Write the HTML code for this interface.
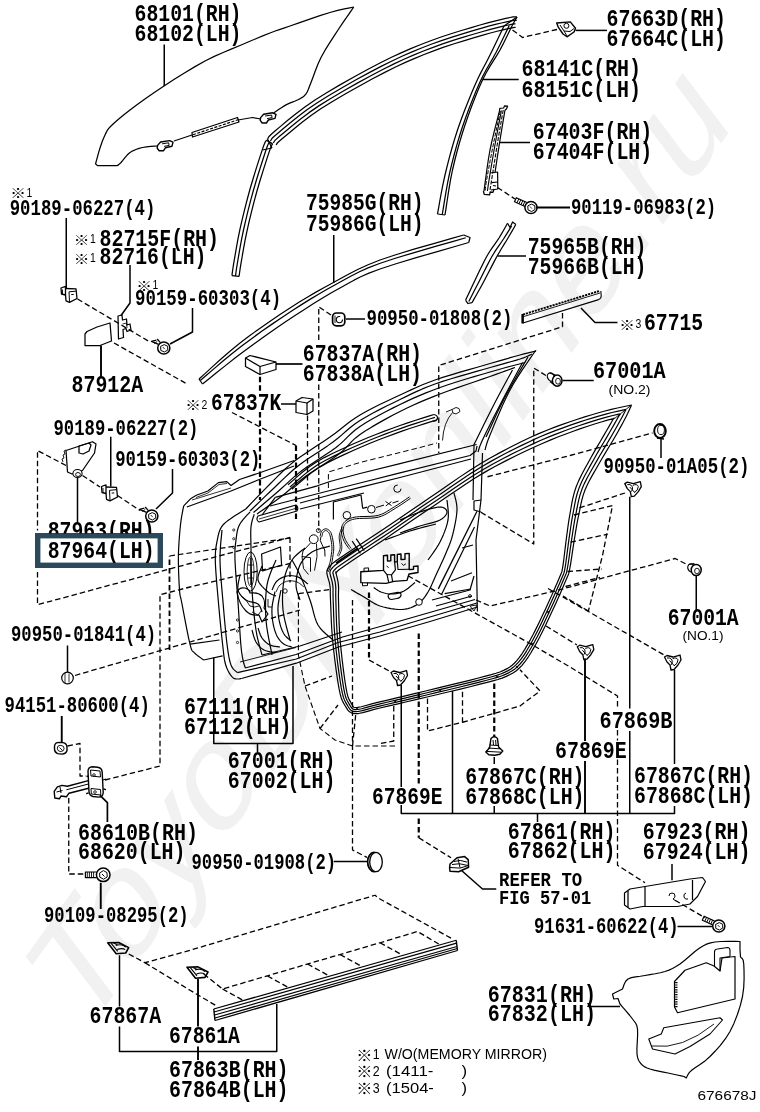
<!DOCTYPE html>
<html><head><meta charset="utf-8"><title>Front door panel and glass parts diagram</title>
<style>html,body{margin:0;padding:0;background:#fff}svg{display:block}text{white-space:pre}</style>
</head><body>
<svg width="760" height="1112" viewBox="0 0 760 1112">
<defs><filter id="gs" filterUnits="userSpaceOnUse" x="0" y="0" width="760" height="1112" color-interpolation-filters="sRGB"><feColorMatrix type="saturate" values="0"/></filter></defs>
<rect width="760" height="1112" fill="#fff"/>
<text transform="translate(83 1038) scale(1 1.366) rotate(-45.75)" font-family='"Liberation Sans", sans-serif' font-size="120" fill="#f1f1f1" textLength="933" lengthAdjust="spacingAndGlyphs">ToyoDIYonline.ru</text>
<path d="M95.5 164 L96.3 161.05 L97.44 156.81 L98.73 152.16 L100 148 L101.19 144.45 L102.41 141.06 L103.67 137.9 L105 135 L106.12 132.63 L107.12 130.69 L108.56 128.65 L111 126 L114.48 122.68 L118.75 118.94 L123.89 114.73 L130 110 L137.28 104.59 L145.62 98.56 L154.66 92.26 L164 86 L173.9 79.6 L184.44 72.97 L195.01 66.61 L205 61 L214.29 56.39 L223.19 52.47 L231.74 48.94 L240 45.5 L248.09 42.04 L255.94 38.72 L263.32 35.67 L270 33 L275.23 31.02 L279.38 29.56 L283.83 28.08 L290 26 L298.97 22.89 L309.77 19.16 L320.67 15.46 L330 12.5 L337.64 10.43 L344.38 8.91 L349.86 7.8 L353.75 7" fill="none" stroke="#000" stroke-width="1.25" stroke-linejoin="round"/>
<path d="M353.75 7 L350.95 11.03 L346.94 16.78 L342.39 23.39 L338 30 L333.67 36.62 L329.14 43.62 L324.79 50.7 L321 57.5 L317.9 64.24 L315.26 70.99 L313 77.24 L311 82.5 L309.43 86.5 L308.27 89.56 L307.18 92.02 L305.8 94.2 L304.11 96.04 L302.27 97.41 L300.22 98.58 L297.9 99.8 L295.22 101.04 L292.24 102.19 L289.11 103.43 L286 104.9 L282.62 106.9 L279.01 109.27 L275.76 111.47 L273.5 113" fill="none" stroke="#000" stroke-width="1.25" stroke-linejoin="round"/>
<path d="M261 119 L252.5 117.5 L238 120" fill="none" stroke="#000" stroke-width="1.25" stroke-linejoin="round"/>
<path d="M192 132.5 L237.5 117.5 L239 122 L192.5 137Z" fill="none" stroke="#000" stroke-width="1.25" stroke-linejoin="round"/>
<path d="M193 134.7 L238 119.8" fill="none" stroke="#000" stroke-width="1.2" stroke-dasharray="3 1.5" stroke-linejoin="round"/>
<path d="M192 135 L174 141" fill="none" stroke="#000" stroke-width="1.25" stroke-linejoin="round"/>
<path d="M157.5 146 L154.75 146.19 L150.78 146.44 L146.43 146.84 L142.5 147.5 L139.12 148.39 L135.88 149.47 L132.82 150.82 L130 152.5 L127.38 154.81 L124.94 157.62 L122.78 160.38 L121 162.5 L119.66 163.81 L118.69 164.62 L118 165.12 L117.5 165.5 L97.5 165.5 L95.5 164" fill="none" stroke="#000" stroke-width="1.25" stroke-linejoin="round"/>
<path d="M157.6 145.4 l3 -3.4 l9 -1.4 l3.4 1.6 l-1 4 l-6.6 1.6 l-2 3 l-4.2 0 l-2 -2.6 z" fill="none" stroke="#000" stroke-width="1.4" stroke-linejoin="round"/>
<path d="M162.1 143.8 l6.5 -1 l0.5 2.6 l-5 1" fill="none" stroke="#000" stroke-width="1" stroke-linejoin="round"/>
<path d="M260.6 117.6 l3 -3.4 l9 -1.4 l3.4 1.6 l-1 4 l-6.6 1.6 l-2 3 l-4.2 0 l-2 -2.6 z" fill="none" stroke="#000" stroke-width="1.4" stroke-linejoin="round"/>
<path d="M265.1 116 l6.5 -1 l0.5 2.6 l-5 1" fill="none" stroke="#000" stroke-width="1" stroke-linejoin="round"/>
<path d="M231.93 275.52 L232.2 273.55 L232.56 270.78 L233.12 266.97 L233.95 261.9 L235.08 255.28 L236.46 247.27 L238.09 238.41 L239.98 229.24 L242.16 219.7 L244.6 209.6 L247.25 199.26 L250.04 189.02 L253.21 178.21 L256.72 166.92 L260.03 156.64 L262.59 148.84 L264.24 144.26 L265.34 141.84 L266.06 140.73 L266.42 140.13" fill="none" stroke="#000" stroke-width="1.25" stroke-linejoin="round"/>
<path d="M235.5 276 L235.77 274.02 L236.12 271.28 L236.67 267.53 L237.5 262.5 L238.62 255.89 L240 247.91 L241.62 239.1 L243.5 230 L245.66 220.53 L248.09 210.47 L250.73 200.18 L253.5 190 L256.66 179.25 L260.16 168 L263.45 157.75 L266 150 L267.59 145.56 L268.53 143.5 L269.08 142.69 L269.5 142" fill="none" stroke="#000" stroke-width="1.25" stroke-linejoin="round"/>
<path d="M239.07 276.48 L239.33 274.49 L239.69 271.78 L240.23 268.08 L241.05 263.1 L242.17 256.49 L243.54 248.54 L245.16 239.79 L247.02 230.76 L249.16 221.35 L251.59 211.34 L254.21 201.1 L256.96 190.98 L260.11 180.29 L263.59 169.08 L266.87 158.86 L269.41 151.16 L270.94 146.87 L271.73 145.16 L272.11 144.64 L272.58 143.87" fill="none" stroke="#000" stroke-width="1.25" stroke-linejoin="round"/>
<path d="M231.93 275.52 L239.07 276.48" fill="none" stroke="#000" stroke-width="1.25" stroke-linejoin="round"/>
<path d="M266.42 140.13 L272.58 143.87" fill="none" stroke="#000" stroke-width="1.25" stroke-linejoin="round"/>
<path d="M267.5 139 L268 138.28 L268.4 137.48 L269.3 136.24 L271.3 134.2 L275 131 L280.52 126.37 L287.46 120.54 L295.64 113.94 L304.88 106.95 L315 100 L326.64 92.74 L339.92 84.91 L353.88 77.01 L367.56 69.54 L380 63 L390.96 57.54 L401.08 52.83 L410.72 48.65 L420.24 44.78 L430 41 L440.32 37.28 L450.96 33.76 L461.44 30.5 L471.28 27.56 L480 25 L487.65 22.84 L494.54 21.05 L500.62 19.59 L505.79 18.42 L510 17.5 L512.98 16.94 L514.79 16.77 L515.81 16.83 L516.42 16.96 L517 17" fill="none" stroke="#000" stroke-width="1.25" stroke-linejoin="round"/>
<path d="M270.37 141 L271.01 140.06 L271.35 139.36 L271.92 138.56 L273.67 136.78 L277.27 133.67 L282.77 129.05 L289.68 123.25 L297.79 116.7 L306.92 109.79 L316.91 102.93 L328.45 95.74 L341.67 87.94 L355.58 80.07 L369.21 72.62 L381.6 66.11 L392.48 60.7 L402.52 56.02 L412.08 51.87 L421.53 48.03 L431.22 44.28 L441.46 40.59 L452.03 37.09 L462.46 33.85 L472.27 30.92 L480.97 28.36 L488.56 26.22 L495.4 24.45 L501.41 23 L506.55 21.83 L510.7 20.93 L513.51 20.4 L514.94 20.27 L515.41 20.31 L515.92 20.42 L516.74 20.49" fill="none" stroke="#000" stroke-width="1.25" stroke-linejoin="round"/>
<path d="M273.25 142.99 L274.02 141.85 L274.3 141.24 L274.54 140.88 L276.04 139.35 L279.53 136.34 L285.02 131.73 L291.91 125.95 L299.95 119.45 L308.97 112.63 L318.83 105.86 L330.27 98.73 L343.42 90.97 L357.28 83.13 L370.87 75.7 L383.19 69.23 L394 63.85 L403.95 59.21 L413.43 55.1 L422.82 51.28 L432.45 47.56 L442.61 43.9 L453.1 40.42 L463.48 37.2 L473.27 34.27 L481.94 31.73 L489.48 29.6 L496.25 27.84 L502.21 26.4 L507.31 25.25 L511.4 24.36 L514.04 23.86 L515.08 23.77 L515.02 23.78" fill="none" stroke="#000" stroke-width="1.25" stroke-linejoin="round"/>
<path d="M276.12 144.99 L277.03 143.63 L277.25 143.12 L277.17 143.19 L278.41 141.93 L281.8 139 L287.27 134.41 L294.13 128.65 L302.1 122.21 L311.01 115.47 L320.74 108.79 L332.08 101.73 L345.17 94 L358.98 86.18 L372.52 78.79 L384.79 72.34 L395.52 67 L405.39 62.41 L414.79 58.33 L424.11 54.54 L433.67 50.84 L443.75 47.2 L454.17 43.76 L464.5 40.54 L474.26 37.63 L482.91 35.09 L490.4 32.98 L497.1 31.24 L503.01 29.81 L508.07 28.67 L512.11 27.79 L514.56 27.32 L515.22 27.26 L514.63 27.26" fill="none" stroke="#000" stroke-width="1.25" stroke-linejoin="round"/>
<path d="M267.5 139 L272 148" fill="none" stroke="#000" stroke-width="1.25" stroke-linejoin="round"/>
<path d="M262.5 150 L272 148" fill="none" stroke="#000" stroke-width="1.25" stroke-linejoin="round"/>
<path d="M517 17 L516.52 17.82 L515.91 18.81 L515.09 20.19 L513.98 22.18 L512.5 25 L510.59 28.83 L508.32 33.54 L505.74 38.82 L502.95 44.41 L500 50 L496.82 55.44 L493.36 60.92 L489.74 66.68 L486.08 72.96 L482.5 80 L478.92 88.04 L475.26 96.92 L471.64 106.28 L468.18 115.76 L465 125 L462.1 134 L459.4 143 L456.9 152 L454.6 161 L452.5 170 L450.56 179.72 L448.78 190.16 L447.22 200.24 L445.94 208.88 L445 215" fill="none" stroke="#000" stroke-width="1.25" stroke-linejoin="round"/>
<path d="M504 26 L502.11 29.93 L499.46 35.46 L496.34 41.94 L493.09 48.67 L490 55 L487.1 60.7 L484.19 66.21 L481.23 71.87 L478.18 78.02 L475 85 L471.58 93.04 L467.94 101.92 L464.26 111.28 L460.72 120.76 L457.5 130 L454.6 139.1 L451.9 148.29 L449.4 157.43 L447.1 166.38 L445 175 L443.06 183.81 L441.28 192.9 L439.72 201.5 L438.44 208.79 L437.5 214" fill="none" stroke="#000" stroke-width="1.25" stroke-linejoin="round"/>
<path d="M509.25 25.5 L507.5 29.12 L505.05 34.21 L502.15 40.19 L499.05 46.48 L496 52.5 L492.96 58.07 L489.78 63.56 L486.48 69.28 L483.13 75.49 L479.75 82.5 L476.25 90.54 L472.6 99.42 L468.95 108.78 L465.45 118.26 L462.25 127.5 L459.35 136.55 L456.65 145.64 L454.15 154.72 L451.85 163.69 L449.75 172.5 L447.81 181.76 L446.03 191.53 L444.47 200.87 L443.19 208.84 L442.25 214.5" fill="none" stroke="#000" stroke-width="1.25" stroke-linejoin="round"/>
<path d="M437.5 214 L445 215" fill="none" stroke="#000" stroke-width="1.25" stroke-linejoin="round"/>
<path d="M504 26 L517 17" fill="none" stroke="#000" stroke-width="1.25" stroke-linejoin="round"/>
<path d="M556.7 23 L570.3 21.9 L575.5 28.2 L574 32 L567 36.8 L563 34 L558.4 27.4Z" fill="none" stroke="#000" stroke-width="1.4" stroke-linejoin="round"/>
<circle cx="566.4" cy="25.8" r="2.5" fill="none" stroke="#000" stroke-width="1"/>
<path d="M560 25 l4 6 l6 0.5 l4 -3 M564 31 l3 5" fill="none" stroke="#000" stroke-width="1" stroke-linejoin="round"/>
<path d="M505 110 L504.32 114.04 L503.36 119.72 L502.24 126.38 L501.08 133.36 L500 140 L498.92 146.86 L497.76 154.38 L496.64 161.72 L495.68 168.04 L495 172.5" fill="none" stroke="#000" stroke-width="1.2" stroke-linejoin="round"/>
<path d="M503.2 110 L502.49 114.04 L501.49 119.72 L500.33 126.38 L499.12 133.36 L498 140 L496.92 146.58 L495.8 153.54 L494.71 160.46 L493.69 166.92 L492.8 172.5 L492.04 177.24 L491.37 181.42 L490.8 184.98 L490.34 187.86 L490 190" fill="none" stroke="#000" stroke-width="1.1" stroke-dasharray="4 1.5" stroke-linejoin="round"/>
<path d="M501.4 110.5 L500.59 114.78 L499.45 120.81 L498.11 127.85 L496.75 135.16 L495.5 142 L494.33 148.61 L493.13 155.48 L491.97 162.26 L490.91 168.55 L490 174 L489.25 178.63 L488.63 182.7 L488.11 186.14 L487.71 188.93 L487.4 191" fill="none" stroke="#000" stroke-width="1.1" stroke-linejoin="round"/>
<path d="M500.3 111 L499.29 115.78 L497.86 122.53 L496.21 130.39 L494.52 138.5 L493 146 L491.58 153.23 L490.14 160.78 L488.76 168.1 L487.55 174.69 L486.6 180 L485.98 183.85 L485.61 186.58 L485.42 188.5 L485.31 189.87 L485.2 191" fill="none" stroke="#000" stroke-width="1" stroke-dasharray="4 1.5" stroke-linejoin="round"/>
<path d="M499.5 111 L498.15 116.27 L496.22 123.7 L494 132.38 L491.83 141.45 L490 150 L488.48 158.73 L487.06 168.22 L485.8 177.46 L484.76 185.39 L484 191" fill="none" stroke="#000" stroke-width="1.2" stroke-linejoin="round"/>
<path d="M499.5 111 L499.8 108.3 L503.6 108 L504.6 105.8 L507.6 106.2 L506.4 109 L505 110" fill="none" stroke="#000" stroke-width="1.2" stroke-linejoin="round"/>
<path d="M483.4 191 L484.2 194.4 L489.6 194.8 L490.2 192 L493 192.4 L494 189" fill="none" stroke="#000" stroke-width="1.3" stroke-linejoin="round"/>
<path d="M490 173 L497.6 172 L497.8 189 L491 190" fill="none" stroke="#000" stroke-width="1.2" stroke-linejoin="round"/>
<path d="M491.5 182.6 L497.6 182" fill="none" stroke="#000" stroke-width="1.2" stroke-linejoin="round"/>
<path d="M493 185.5 l3 0.5" fill="none" stroke="#000" stroke-width="1.2" stroke-linejoin="round"/>
<path d="M507.5 223.3 L506.39 225.26 L504.86 228 L503.03 231.23 L501.03 234.66 L499 238 L496.9 241.15 L494.65 244.31 L492.29 247.62 L489.86 251.24 L487.4 255.3 L484.82 260.07 L482.1 265.45 L479.36 271.06 L476.75 276.5 L474.4 281.4 L472.23 285.94 L470.16 290.39 L468.28 294.45 L466.73 297.84 L465.6 300.3" fill="none" stroke="#000" stroke-width="1.25" stroke-linejoin="round"/>
<path d="M515.8 224.5 L514.79 226.26 L513.4 228.69 L511.73 231.59 L509.9 234.76 L508 238 L506.04 241.25 L503.93 244.66 L501.7 248.28 L499.35 252.21 L496.9 256.5 L494.25 261.4 L491.4 266.85 L488.49 272.51 L485.64 278.01 L483 283 L480.44 287.69 L477.86 292.32 L475.47 296.56 L473.45 300.13 L472 302.7" fill="none" stroke="#000" stroke-width="1.25" stroke-linejoin="round"/>
<path d="M511.6 226 L510.55 227.7 L509.1 230.07 L507.36 232.89 L505.45 235.94 L503.5 239 L501.48 242 L499.32 245.07 L497.03 248.35 L494.65 251.95 L492.2 256 L489.58 260.76 L486.79 266.15 L483.95 271.78 L481.2 277.25 L478.7 282.2 L476.33 286.81 L474.01 291.34 L471.87 295.5 L470.09 298.99 L468.8 301.5" fill="none" stroke="#000" stroke-width="1.25" stroke-linejoin="round"/>
<path d="M465.6 300.3 L468 303.5 L472 302.7" fill="none" stroke="#000" stroke-width="1.25" stroke-linejoin="round"/>
<path d="M507.5 223.3 L510 227.5 L512.6 222 L515.8 224.5" fill="none" stroke="#000" stroke-width="1.25" stroke-linejoin="round"/>
<path d="M199 379 L204.43 374.09 L212.02 367.14 L220.98 359.06 L230.57 350.71 L240 343 L249.54 335.78 L259.71 328.45 L270.11 321.23 L280.34 314.34 L290 308 L298.9 302.33 L307.3 297.18 L315.5 292.38 L323.8 287.71 L332.5 283 L341.1 278.3 L349.4 273.75 L358.15 269.25 L368.1 264.7 L380 260 L395.77 254.73 L414.91 248.94 L434.54 243.3 L451.78 238.43 L463.75 235" fill="none" stroke="#000" stroke-width="1.2" stroke-linejoin="round"/>
<path d="M202.5 384 L208.16 379.47 L216.08 373.08 L225.42 365.62 L235.34 357.83 L245 350.5 L254.6 343.48 L264.7 336.25 L275 329.03 L285.2 322.04 L295 315.5 L304.4 309.38 L313.6 303.55 L322.6 298.03 L331.4 292.84 L340 288 L347.54 283.78 L354.02 280.15 L360.73 276.73 L368.96 273.14 L380 269 L396.05 263.76 L416.25 257.67 L437.3 251.55 L455.9 246.22 L468.75 242.5" fill="none" stroke="#000" stroke-width="1.2" stroke-linejoin="round"/>
<path d="M200.25 380.5 L205.8 375.78 L213.55 369.11 L222.7 361.34 L232.45 353.27 L242 345.75 L251.57 338.63 L261.71 331.35 L272.05 324.13 L282.27 317.19 L292 310.75 L301.15 304.86 L309.95 299.37 L318.55 294.2 L327.1 289.27 L335.75 284.5 L343.82 280.04 L351.21 275.95 L358.94 271.99 L368.03 267.92 L379.5 263.5 L395.41 258.24 L415.08 252.31 L435.42 246.42 L453.34 241.33 L465.75 237.75" fill="none" stroke="#000" stroke-width="1.25" stroke-linejoin="round"/>
<path d="M199 379 L202.5 384" fill="none" stroke="#000" stroke-width="1.25" stroke-linejoin="round"/>
<path d="M463.75 235 L470 237.5 L468.75 242.5" fill="none" stroke="#000" stroke-width="1.25" stroke-linejoin="round"/>
<path d="M522.9 314.6 L599.6 290.9" fill="none" stroke="#000" stroke-width="1.9" stroke-dasharray="2.2 0.9" stroke-linejoin="round"/>
<path d="M523.5 316.6 L600 293" fill="none" stroke="#000" stroke-width="0.9" stroke-linejoin="round"/>
<path d="M522.9 314.2 L522.9 323 L598.6 299.6 Q601.4 298.4 601.2 295.6 L600.8 291" fill="none" stroke="#000" stroke-width="1.1" stroke-linejoin="round"/>
<path d="M522.6 314 L522.6 323.4" fill="none" stroke="#000" stroke-width="2.4" stroke-linejoin="round"/>
<path d="M60 286 m1 2 l4.5 -1.6 l0 8.6 l-4 -1 z" fill="none" stroke="#000" stroke-width="1.3" stroke-linejoin="round"/>
<path d="M60 286 m5.5 2.5 l10.5 0.3 l1 9.7 l-7.5 3.8 l-3.5 -1.5 l-0.5 -6" fill="none" stroke="#000" stroke-width="1.3" stroke-linejoin="round"/>
<path d="M60 286 m9 5.8 l0.5 10 M60 286 m9 5.8 l6.8 -0.6 M60 286 m11.2 8.6 l2.6 -0.2" fill="none" stroke="#000" stroke-width="1" stroke-linejoin="round"/>
<path d="M60 286 m2.5 3.5 l0 4.5" fill="none" stroke="#000" stroke-width="0.9" stroke-linejoin="round"/>
<path d="M100.5 484.5 m1 2 l4.5 -1.6 l0 8.6 l-4 -1 z" fill="none" stroke="#000" stroke-width="1.3" stroke-linejoin="round"/>
<path d="M100.5 484.5 m5.5 2.5 l10.5 0.3 l1 9.7 l-7.5 3.8 l-3.5 -1.5 l-0.5 -6" fill="none" stroke="#000" stroke-width="1.3" stroke-linejoin="round"/>
<path d="M100.5 484.5 m9 5.8 l0.5 10 M100.5 484.5 m9 5.8 l6.8 -0.6 M100.5 484.5 m11.2 8.6 l2.6 -0.2" fill="none" stroke="#000" stroke-width="1" stroke-linejoin="round"/>
<path d="M100.5 484.5 m2.5 3.5 l0 4.5" fill="none" stroke="#000" stroke-width="0.9" stroke-linejoin="round"/>
<path d="M158.6 344.4 l-7.2 -3 l5 -1.2 M160.4 342.6 l-3.2 -3.6" fill="none" stroke="#000" stroke-width="1.2" stroke-linejoin="round"/>
<path d="M154.3 343.7 l3 -2.4" fill="none" stroke="#000" stroke-width="0.9" stroke-linejoin="round"/>
<circle cx="163.8" cy="348" r="6.1" fill="#fff" stroke="#000" stroke-width="1.5"/>
<path d="M160.6 346.4 l3.6 -1.8 l3.4 1.6 l0.2 3.8 l-3.4 2 l-3.6 -1.6 z" fill="none" stroke="#000" stroke-width="1" stroke-linejoin="round"/>
<path d="M162.8 347 l2 2.2" fill="none" stroke="#000" stroke-width="0.8" stroke-linejoin="round"/>
<path d="M146.6 512.4 l-7.2 -3 l5 -1.2 M148.4 510.6 l-3.2 -3.6" fill="none" stroke="#000" stroke-width="1.2" stroke-linejoin="round"/>
<path d="M142.3 511.7 l3 -2.4" fill="none" stroke="#000" stroke-width="0.9" stroke-linejoin="round"/>
<circle cx="151.8" cy="516" r="6.1" fill="#fff" stroke="#000" stroke-width="1.5"/>
<path d="M148.6 514.4 l3.6 -1.8 l3.4 1.6 l0.2 3.8 l-3.4 2 l-3.6 -1.6 z" fill="none" stroke="#000" stroke-width="1" stroke-linejoin="round"/>
<path d="M150.8 515 l2 2.2" fill="none" stroke="#000" stroke-width="0.8" stroke-linejoin="round"/>
<path d="M526.8 202.5 l-10.5 -4.8 l-1.8 4 l10.5 4.8" fill="none" stroke="#000" stroke-width="1.2" stroke-linejoin="round"/>
<path d="M524.8 201.58 l-1.8 4" fill="none" stroke="#000" stroke-width="1" stroke-linejoin="round"/>
<path d="M522.8 200.67 l-1.8 4" fill="none" stroke="#000" stroke-width="1" stroke-linejoin="round"/>
<path d="M520.79 199.75 l-1.8 4" fill="none" stroke="#000" stroke-width="1" stroke-linejoin="round"/>
<path d="M518.79 198.84 l-1.8 4" fill="none" stroke="#000" stroke-width="1" stroke-linejoin="round"/>
<circle cx="531" cy="207.5" r="6.1" fill="#fff" stroke="#000" stroke-width="1.5"/>
<path d="M527.8 205.9 l3.6 -1.8 l3.4 1.6 l0.2 3.8 l-3.4 2 l-3.6 -1.6 z" fill="none" stroke="#000" stroke-width="1" stroke-linejoin="round"/>
<path d="M530 206.5 l2 2.2" fill="none" stroke="#000" stroke-width="0.8" stroke-linejoin="round"/>
<path d="M714.6 921 l-10.5 -4.8 l-1.8 4 l10.5 4.8" fill="none" stroke="#000" stroke-width="1.2" stroke-linejoin="round"/>
<path d="M712.6 920.08 l-1.8 4" fill="none" stroke="#000" stroke-width="1" stroke-linejoin="round"/>
<path d="M710.6 919.17 l-1.8 4" fill="none" stroke="#000" stroke-width="1" stroke-linejoin="round"/>
<path d="M708.59 918.25 l-1.8 4" fill="none" stroke="#000" stroke-width="1" stroke-linejoin="round"/>
<path d="M706.59 917.34 l-1.8 4" fill="none" stroke="#000" stroke-width="1" stroke-linejoin="round"/>
<circle cx="718.8" cy="926" r="6.1" fill="#fff" stroke="#000" stroke-width="1.5"/>
<path d="M715.6 924.4 l3.6 -1.8 l3.4 1.6 l0.2 3.8 l-3.4 2 l-3.6 -1.6 z" fill="none" stroke="#000" stroke-width="1" stroke-linejoin="round"/>
<path d="M717.8 925 l2 2.2" fill="none" stroke="#000" stroke-width="0.8" stroke-linejoin="round"/>
<path d="M118 316 l4 -1 l0.5 5 l4 -1 l0.5 6 l3 -1 l1 6 l-4 1.5 l-1 -3 l-3 1 l0.5 8 l-5 1.5 z" fill="none" stroke="#000" stroke-width="1.25" stroke-linejoin="round"/>
<path d="M122.5 324 l4 -1 l0.5 5" fill="none" stroke="#000" stroke-width="0.8" stroke-linejoin="round"/>
<path d="M85 345.5 L85 334 L87 331.5 L97 327 L110 323 L111.5 341 L100 345.5Z" fill="none" stroke="#000" stroke-width="1.25" stroke-linejoin="round"/>
<path d="M66 450.5 L92.5 441.75 L96 444 L94.5 453 L82.5 470.5 L72 474 L67.5 472Z" fill="none" stroke="#000" stroke-width="1.25" stroke-linejoin="round"/>
<path d="M79 446 l10 -3 l2 2 l-2 6 l-6 3 l-4 -1 z" fill="none" stroke="#000" stroke-width="1.25" stroke-linejoin="round"/>
<path d="M66 450 l-2 1 l1 3 l-2 1 l1 3 l-2 1 l1 3" fill="none" stroke="#000" stroke-width="0.9" stroke-linejoin="round"/>
<ellipse cx="77.5" cy="473.5" rx="4.6" ry="4" fill="#fff" stroke="#000" stroke-width="1.1"/>
<ellipse cx="78" cy="474.5" rx="2.4" ry="2" fill="none" stroke="#000" stroke-width="0.9"/>
<rect x="332.6" y="313" width="12.2" height="12.8" rx="3.8" fill="#fff" stroke="#000" stroke-width="1.7"/>
<circle cx="339.4" cy="319.6" r="3.1" fill="none" stroke="#000" stroke-width="1.1" stroke-dasharray="15 4"/>
<path d="M335 315.5 l0 7.5" fill="none" stroke="#000" stroke-width="0.9" stroke-linejoin="round"/>
<path d="M245.5 358 L250 355.5 L276 362 L276 369.5 L260 374.5 L245.5 366.5Z" fill="none" stroke="#000" stroke-width="1.25" stroke-linejoin="round"/>
<path d="M245.5 358 L260 366.5 L276 362" fill="none" stroke="#000" stroke-width="1.25" stroke-linejoin="round"/>
<path d="M260 366.5 L260 374.5" fill="none" stroke="#000" stroke-width="1.25" stroke-linejoin="round"/>
<path d="M296 401 L302 397.5 L313 399 L313 411 L307 414.5 L296 412.5Z" fill="none" stroke="#000" stroke-width="1.25" stroke-linejoin="round"/>
<path d="M296 401 L307 403 L313 399" fill="none" stroke="#000" stroke-width="1.25" stroke-linejoin="round"/>
<path d="M307 403 L307 414.5" fill="none" stroke="#000" stroke-width="1.25" stroke-linejoin="round"/>
<ellipse cx="551" cy="377" rx="3.4" ry="4.4" fill="#fff" stroke="#000" stroke-width="1.3" transform="rotate(-30 551 377)"/>
<path d="M549.5 373 l6 2 M550 381.5 l5 4" fill="none" stroke="#000" stroke-width="1.2" stroke-linejoin="round"/>
<ellipse cx="557.2" cy="380.6" rx="4.8" ry="5.6" fill="#fff" stroke="#000" stroke-width="1.5"/>
<ellipse cx="558" cy="381.2" rx="2.4" ry="3" fill="none" stroke="#000" stroke-width="0.9"/>
<ellipse cx="660" cy="431" rx="5.8" ry="7" fill="#fff" stroke="#000" stroke-width="1.9"/>
<ellipse cx="661" cy="430" rx="3.4" ry="4.6" fill="none" stroke="#000" stroke-width="0.9"/>
<path d="M657 438 l7 1" fill="none" stroke="#000" stroke-width="1.6" stroke-linejoin="round"/>
<path d="M624.3 481.6 m0.5 2 l2.5 -1.5 l6 1.5 l7 -2 l1 5 l-3 5 l-4 4.5 l-3 0.5 l-1 -5 l-3 -3 z" fill="none" stroke="#000" stroke-width="1.3" stroke-linejoin="round"/>
<path d="M624.3 481.6 m3 3 q3 -1 5 2 q1 3 -1 5 M624.3 481.6 m8.5 3.8 q4 -2 5.5 1 q0 4 -4 6 M624.3 481.6 m5.5 5.5 l5 5.5" fill="none" stroke="#000" stroke-width="1" stroke-linejoin="round"/>
<path d="M390.5 670.5 m0.5 2 l2.5 -1.5 l6 1.5 l7 -2 l1 5 l-3 5 l-4 4.5 l-3 0.5 l-1 -5 l-3 -3 z" fill="none" stroke="#000" stroke-width="1.3" stroke-linejoin="round"/>
<path d="M390.5 670.5 m3 3 q3 -1 5 2 q1 3 -1 5 M390.5 670.5 m8.5 3.8 q4 -2 5.5 1 q0 4 -4 6 M390.5 670.5 m5.5 5.5 l5 5.5" fill="none" stroke="#000" stroke-width="1" stroke-linejoin="round"/>
<path d="M576.8 644.7 m0.5 2 l2.5 -1.5 l6 1.5 l7 -2 l1 5 l-3 5 l-4 4.5 l-3 0.5 l-1 -5 l-3 -3 z" fill="none" stroke="#000" stroke-width="1.3" stroke-linejoin="round"/>
<path d="M576.8 644.7 m3 3 q3 -1 5 2 q1 3 -1 5 M576.8 644.7 m8.5 3.8 q4 -2 5.5 1 q0 4 -4 6 M576.8 644.7 m5.5 5.5 l5 5.5" fill="none" stroke="#000" stroke-width="1" stroke-linejoin="round"/>
<path d="M664 655 m0.5 2 l2.5 -1.5 l6 1.5 l7 -2 l1 5 l-3 5 l-4 4.5 l-3 0.5 l-1 -5 l-3 -3 z" fill="none" stroke="#000" stroke-width="1.3" stroke-linejoin="round"/>
<path d="M664 655 m3 3 q3 -1 5 2 q1 3 -1 5 M664 655 m8.5 3.8 q4 -2 5.5 1 q0 4 -4 6 M664 655 m5.5 5.5 l5 5.5" fill="none" stroke="#000" stroke-width="1" stroke-linejoin="round"/>
<ellipse cx="691.5" cy="568" rx="3.6" ry="4.2" fill="#fff" stroke="#000" stroke-width="1.3" transform="rotate(-25 691.5 568)"/>
<ellipse cx="696.2" cy="570" rx="5" ry="5.6" fill="#fff" stroke="#000" stroke-width="1.5"/>
<ellipse cx="697" cy="571" rx="2.4" ry="2.8" fill="none" stroke="#000" stroke-width="0.9"/>
<path d="M689.5 564.2 l5 -0.6" fill="none" stroke="#000" stroke-width="1.1" stroke-linejoin="round"/>
<circle cx="67.5" cy="678" r="5.8" fill="#fff" stroke="#000" stroke-width="1.2"/>
<path d="M65 673 v10 M69 673.5 v9" fill="none" stroke="#000" stroke-width="0.8" stroke-linejoin="round"/>
<path d="M54.5 746 q0.5 -3.5 4.5 -3.6 l4 0.2 q3.6 0.6 4 4.4 l0 3.5 q-1 3.4 -5 3.6 l-4.5 -0.5 q-3 -1.4 -3 -4.6 z" fill="none" stroke="#000" stroke-width="1.4" stroke-linejoin="round"/>
<path d="M58 746 q3 -1.6 5.5 0.4 q1.5 2.6 -0.6 4.6 q-3 1.4 -5 -0.6 q-1.2 -2.4 0.1 -4.4 M59.5 747.5 l3 3" fill="none" stroke="#000" stroke-width="0.9" stroke-linejoin="round"/>
<path d="M88 771.5 q0 -4.5 4.5 -4.7 l5 0.4 q4.5 0.6 4.7 5 l1 20.5 q-0.4 4.4 -4.6 4.4 l-5.6 -0.6 q-3.6 -1 -4 -4.6 z" fill="none" stroke="#000" stroke-width="1.4" stroke-linejoin="round"/>
<path d="M90.5 770 l9.5 1 l0.5 6 l-9.5 -1 z M91 788.5 l9.5 1 l0.3 5.5 l-9.5 -1 z" fill="none" stroke="#000" stroke-width="1" stroke-linejoin="round"/>
<path d="M88.4 780.6 l-21 5.6 l-5.4 -0.8 l-4.6 1.4 l-3.2 4.6 l0.6 6.6 l4.6 0.8 l1.6 -2.8 l5.4 0.8 l2.6 -3.6 l19.6 -5" fill="none" stroke="#000" stroke-width="1.4" stroke-linejoin="round"/>
<path d="M88.4 784 l-22 5.8 M60 787 l1 6 M56.5 792 l6 -1.5" fill="none" stroke="#000" stroke-width="1" stroke-linejoin="round"/>
<path d="M88.5 776 l-2 0.5 M88.5 793 l-2.4 0.6 M103 780 l3 -1 M103.4 789 l2.6 0.6" fill="none" stroke="#000" stroke-width="1.3" stroke-linejoin="round"/>
<circle cx="94" cy="775" r="1.3" fill="none" stroke="#000" stroke-width="0.8"/>
<circle cx="95" cy="792" r="1.3" fill="none" stroke="#000" stroke-width="0.8"/>
<circle cx="103.2" cy="874.8" r="6.8" fill="#fff" stroke="#000" stroke-width="1.5"/>
<path d="M99.6 873 l3.8 -2.4 l3.6 2 l0.2 4.4 l-3.6 2.2 l-3.8 -2 z M102 874 l2.5 2.5" fill="none" stroke="#000" stroke-width="1" stroke-linejoin="round"/>
<path d="M96.4 872 h-11 v5.6 h11" fill="none" stroke="#000" stroke-width="1.2" stroke-linejoin="round"/>
<path d="M87.3 872 v5.6 M89.4 872 v5.6 M91.5 872 v5.6 M93.6 872 v5.6" fill="none" stroke="#000" stroke-width="0.9" stroke-linejoin="round"/>
<ellipse cx="374" cy="862" rx="6.3" ry="9.6" fill="#fff" stroke="#000" stroke-width="1.6"/>
<ellipse cx="376" cy="862" rx="6.3" ry="9.6" fill="#fff" stroke="#000" stroke-width="1.3"/>
<path d="M371 853.6 q-4 3 -3.6 9 q0.4 6 4 8" fill="none" stroke="#000" stroke-width="1" stroke-linejoin="round"/>
<path d="M107.7 942 m0 0.8 l11 -0.3 l10 5.1 l-3 5.4 l-9.5 0.8 z" fill="none" stroke="#000" stroke-width="1.6" stroke-linejoin="round"/>
<path d="M107.7 942 m3.5 1.4 l6.5 8 M107.7 942 m8 3.6 q6 -2.4 10 1.6 M107.7 942 m9.5 7.6 q5 -2 8 0 M107.7 942 m6 1 l4 2" fill="none" stroke="#000" stroke-width="1.1" stroke-linejoin="round"/>
<path d="M187 966.4 m0 0.8 l11 -0.3 l10 5.1 l-3 5.4 l-9.5 0.8 z" fill="none" stroke="#000" stroke-width="1.6" stroke-linejoin="round"/>
<path d="M187 966.4 m3.5 1.4 l6.5 8 M187 966.4 m8 3.6 q6 -2.4 10 1.6 M187 966.4 m9.5 7.6 q5 -2 8 0 M187 966.4 m6 1 l4 2" fill="none" stroke="#000" stroke-width="1.1" stroke-linejoin="round"/>
<path d="M491 738.4 q3.3 -3.4 6.4 0 l1.2 8.6 l4.2 4 l-3 3.2 l-5 1 l-6 -0.4 l-3 -2.8 l3.8 -4.2 z" fill="none" stroke="#000" stroke-width="1.4" stroke-linejoin="round"/>
<path d="M489.5 745 l9.5 0.6 M488 748 l12 0.8 M486.5 751.4 l15 0.8 M493 740 l0.5 5 M495.6 740 l0.4 5" fill="none" stroke="#000" stroke-width="1" stroke-linejoin="round"/>
<path d="M449.6 868 l0.4 -4 l7 -6.2 l7.6 -1.2 l3.6 3 l0.4 7.6 l-10 4.6 l-8.6 -0.6 z" fill="none" stroke="#000" stroke-width="1.5" stroke-linejoin="round"/>
<path d="M454 861.5 q6 -2.4 13 0.6 M452 864.5 q7 -2 16 1 M450 867.5 l10 0.6 l8.4 -2.6 M458 858.6 l2 9" fill="none" stroke="#000" stroke-width="1" stroke-linejoin="round"/>
<path d="M624.5 893 L630 889 L690 879 L702.5 877.5 L705.5 881.5 L697.5 896.5 L690 904 L677.5 906.5 L642.5 906.5 L630 909 L624.5 905Z" fill="none" stroke="#000" stroke-width="1.2" stroke-linejoin="round"/>
<path d="M645 887 L645 906" fill="none" stroke="#000" stroke-width="1.25" stroke-linejoin="round"/>
<path d="M692.5 880 L692.5 900" fill="none" stroke="#000" stroke-width="1.25" stroke-linejoin="round"/>
<path d="M628 891 L628 907" fill="none" stroke="#000" stroke-width="1.25" stroke-linejoin="round"/>
<path d="M669 896 q0 -3 3 -3 q3 0 3 3 q0 2 -2 3 l3 2 M686 893 q-3 1 -2 4 q1 3 4 2" fill="none" stroke="#000" stroke-width="1" stroke-linejoin="round"/>
<path d="M740 941.5 L735.27 941.47 L728.44 941.39 L721.13 941.49 L715 942 L710.66 942.82 L707.19 943.89 L703.87 945.45 L700 947.75 L695.23 951.28 L690 955.77 L684.77 960.31 L680 964 L676.02 966.57 L672.5 968.52 L668.98 970.08 L665 971.5 L660.28 972.76 L655.12 973.75 L649.91 974.62 L645 975.5 L640.27 976.26 L635.59 976.88 L631.37 977.68 L628 979 L625.69 981.28 L624.19 984.22 L623.22 987.05 L622.5 989 L612.5 994 L613.75 999 L618 998.5 L620 1004 L622.42 1006.81 L625.94 1010.88 L629.61 1015.25 L632.5 1019 L634.41 1021.5 L635.81 1023.38 L636.81 1025.56 L637.5 1029 L637.65 1034.55 L637.3 1041.5 L636.92 1048.45 L637 1054 L637.62 1057.67 L638.55 1060.25 L639.76 1062.2 L641.25 1064 L642.9 1065.62 L644.77 1066.88 L647.06 1067.94 L650 1069 L653.9 1070.08 L658.55 1071.09 L663.42 1072.06 L668 1073 L672.52 1073.99 L677.12 1075 L681.17 1075.88 L684 1076.5 L686.25 1078 L688 1074.5 L688.39 1073.9 L688.88 1073.09 L689.92 1071.86 L692 1070 L695.47 1067.53 L700 1064.53 L705.03 1060.89 L710 1056.5 L715.04 1051.29 L720.34 1045.34 L725.48 1038.72 L730 1031.5 L733.92 1023.39 L737.42 1014.47 L740.34 1005.31 L742.5 996.5 L743.71 987.6 L744.11 978.5 L744.02 970.27 L743.75 964 L743.18 960.29 L742.2 958.47 L741.19 957.66 L740.5 957 L740 950Z" fill="none" stroke="#000" stroke-width="1.2" stroke-linejoin="round"/>
<path d="M674.5 981.5 L685 970.25 L706.25 962.75 L714 966 L720 971 L722 958 L735 956.5 L735 999 L677.5 1012.75 L674.5 1007Z" fill="none" stroke="#000" stroke-width="1.2" stroke-linejoin="round"/>
<path d="M676.3 982 L676.3 1008" fill="none" stroke="#000" stroke-width="2.4" stroke-dasharray="1.2 1.2" stroke-linejoin="round"/>
<path d="M714.5 966 v-14 q0 -3 3 -3 l10 -1.5 q2.5 0 2.5 3 v6 M720 971 v-13 l10 -1.5" fill="none" stroke="#000" stroke-width="1.1" stroke-linejoin="round"/>
<path d="M648.75 1039 L661.25 1034 L663.75 1027.75 L720 1017.75 L722.5 1020 L710 1034 L690 1046.5 L675 1054 L652.5 1049Z" fill="none" stroke="#000" stroke-width="1.1" stroke-linejoin="round"/>
<path d="M652 1046 q30 4 62 -22" fill="none" stroke="#000" stroke-width="0.9" stroke-linejoin="round"/>
<path d="M294.2 460.5 L258.4 473.2 L239.5 479.5 L231 485.5 L226.8 481.6 L218.4 482.6 L207.9 491 L196.3 495.3 L191 498.4 L183.7 505.8" fill="none" stroke="#000" stroke-width="1.2" stroke-linejoin="round"/>
<path d="M186.8 507 L231 491 L258 480 L294 466" fill="none" stroke="#000" stroke-width="1.2" stroke-linejoin="round"/>
<path d="M192 500 L231 488" fill="none" stroke="#000" stroke-width="0.8" stroke-linejoin="round"/>
<path d="M183.7 505.8 L183.34 507.71 L182.83 510.23 L182.23 513.27 L181.6 516.76 L181.01 520.6 L180.5 524.7 L180.05 529.21 L179.6 534.21 L179.18 539.57 L178.82 545.14 L178.55 550.76 L178.4 556.3 L178.39 562.05 L178.49 568.18 L178.69 574.38 L178.94 580.3 L179.22 585.61 L179.5 590 L179.72 592.91 L179.89 594.49 L180.09 595.47 L180.4 596.57 L180.87 598.5 L181.6 602 L182.68 607.68 L184.09 615.08 L185.67 623.32 L187.28 631.52 L188.77 638.77 L190 644.2 L190.88 647.57 L191.51 649.54 L192.03 650.58 L192.56 651.13 L193.24 651.65 L194.2 652.6 L195.59 653.98 L197.33 655.41 L199.21 656.82 L201.04 658.12 L202.61 659.21 L203.7 660" fill="none" stroke="#000" stroke-width="1.2" stroke-linejoin="round"/>
<path d="M203.7 660 L222.6 655.8" fill="none" stroke="#000" stroke-width="1.2" stroke-linejoin="round"/>
<path d="M190 644.2 L219.5 640" fill="none" stroke="#000" stroke-width="1.2" stroke-linejoin="round"/>
<path d="M245.8 509 L244.13 510.03 L241.76 511.47 L238.99 513.18 L236.08 514.99 L233.33 516.78 L231 518.4 L229.06 519.81 L227.27 521.11 L225.64 522.39 L224.15 523.72 L222.8 525.16 L221.6 526.8 L220.57 528.58 L219.74 530.43 L219.04 532.39 L218.45 534.53 L217.92 536.88 L217.4 539.5 L216.87 542.22 L216.35 544.96 L215.89 547.92 L215.54 551.29 L215.32 555.25 L215.3 560 L215.5 565.75 L215.91 572.4 L216.46 579.64 L217.09 587.19 L217.76 594.74 L218.4 602 L219.05 609.27 L219.76 616.83 L220.49 624.41 L221.23 631.69 L221.95 638.39 L222.6 644.2 L223.14 649.04 L223.59 653.11 L224 656.6 L224.46 659.68 L225.04 662.52 L225.8 665.3 L226.78 668.03 L227.92 670.57 L229.18 672.88 L230.5 674.9 L231.86 676.59 L233.2 677.9 L234.64 678.7 L236.24 679.01 L237.86 678.99 L239.39 678.79 L240.67 678.57 L241.6 678.5" fill="none" stroke="#000" stroke-width="1.2" stroke-linejoin="round"/>
<path d="M250 512 L248.78 513.35 L247.02 515.2 L244.97 517.39 L242.87 519.8 L240.97 522.29 L239.5 524.7 L238.48 527.05 L237.72 529.43 L237.16 531.89 L236.72 534.46 L236.36 537.15 L236 540 L235.64 542.81 L235.33 545.5 L235.09 548.33 L234.94 551.53 L234.91 555.34 L235 560 L235.27 565.73 L235.71 572.37 L236.26 579.62 L236.87 587.19 L237.47 594.75 L238 602 L238.49 609.3 L238.97 616.96 L239.45 624.62 L239.92 631.93 L240.37 638.5 L240.8 644 L241.2 648.26 L241.57 651.56 L241.93 654.12 L242.27 656.22 L242.63 658.1 L243 660 L243.42 661.89 L243.87 663.56 L244.34 665 L244.77 666.22 L245.14 667.22 L245.4 668" fill="none" stroke="#000" stroke-width="1.2" stroke-linejoin="round"/>
<path d="M254.2 514.2 L253.81 515.47 L253.25 517.15 L252.6 519.17 L251.95 521.5 L251.39 524.06 L251 526.8 L250.8 529.59 L250.73 532.46 L250.74 535.56 L250.81 539.07 L250.91 543.16 L251 548 L251.07 553.82 L251.15 560.53 L251.25 567.83 L251.41 575.38 L251.65 582.88 L252 590 L252.47 596.96 L253.04 604.04 L253.69 611.06 L254.41 617.85 L255.18 624.22 L256 630 L256.95 635.32 L258.07 640.37 L259.25 645 L260.37 649.07 L261.32 652.45 L262 655" fill="none" stroke="#000" stroke-width="1.2" stroke-linejoin="round"/>
<path d="M222 530 L221.72 533.12 L221.3 537.33 L220.81 542.38 L220.37 548 L220.07 553.96 L220 560 L220.2 566.31 L220.59 573.11 L221.12 580.25 L221.74 587.56 L222.38 594.86 L223 602 L223.61 609.24 L224.26 616.78 L224.94 624.31 L225.63 631.56 L226.32 638.22 L227 644 L227.64 648.87 L228.24 653.05 L228.85 656.65 L229.49 659.77 L230.19 662.52 L231 665 L232 667.13 L233.19 668.81 L234.45 670.11 L235.65 671.13 L236.68 671.93 L237.4 672.6" fill="none" stroke="#000" stroke-width="1.2" stroke-linejoin="round"/>
<path d="M241.6 678.5 L296.3 663.2 L338.4 647 L380 636 L430 621.5 L477.4 607" fill="none" stroke="#000" stroke-width="1.2" stroke-linejoin="round"/>
<path d="M237.4 672.6 L296.3 659 L338 642.5 L380 632 L430 617 L477 603" fill="none" stroke="#000" stroke-width="1.2" stroke-linejoin="round"/>
<path d="M245 668 L296 654.5 L342.6 637 L400 621 L475 599.5" fill="none" stroke="#000" stroke-width="1.2" stroke-linejoin="round"/>
<path d="M262 655 L300 646 L342 632" fill="none" stroke="#000" stroke-width="1.2" stroke-linejoin="round"/>
<path d="M482.5 453 L481 500 L476 540 L477.4 611.6" fill="none" stroke="#000" stroke-width="1.2" stroke-linejoin="round"/>
<path d="M474 445 L473 500" fill="none" stroke="#000" stroke-width="1.2" stroke-linejoin="round"/>
<path d="M481 500 l-7 1 l0 9 l7 2" fill="none" stroke="#000" stroke-width="1.2" stroke-linejoin="round"/>
<path d="M245.8 509 L248.44 506.25 L252.08 502.43 L256.4 497.91 L261.05 493.07 L265.7 488.31 L270 484 L273.87 480.13 L277.57 476.39 L281.26 472.72 L285.12 469.06 L289.31 465.34 L294 461.5 L299.38 457.5 L305.33 453.39 L311.62 449.22 L318 445.06 L324.21 440.96 L330 437 L335.23 433.17 L340.07 429.41 L344.75 425.72 L349.48 422.09 L354.49 418.52 L360 415 L366.15 411.49 L372.78 408 L379.69 404.56 L386.67 401.22 L393.51 398.02 L400 395 L405.95 392.21 L411.48 389.63 L416.88 387.19 L422.41 384.81 L428.36 382.44 L435 380 L442.64 377.44 L451.11 374.81 L460 372.19 L468.89 369.63 L477.36 367.21 L485 365 L491.92 362.97 L498.48 361.07 L504.62 359.31 L510.3 357.7 L515.44 356.26 L520 355 L523.95 353.94 L527.33 353.07 L530.19 352.38 L532.56 351.81 L534.48 351.37 L536 351" fill="none" stroke="#000" stroke-width="1.2" stroke-linejoin="round"/>
<path d="M250 511 L252.61 508.49 L256.22 505 L260.5 500.88 L265.11 496.44 L269.72 492.04 L274 488 L277.87 484.3 L281.59 480.67 L285.31 477.06 L289.19 473.44 L293.36 469.77 L298 466 L303.29 462.09 L309.15 458.06 L315.31 453.97 L321.52 449.89 L327.5 445.88 L333 442 L337.81 438.27 L342.11 434.63 L346.19 431.06 L350.33 427.54 L354.84 424.03 L360 420.5 L365.97 416.91 L372.56 413.26 L379.5 409.62 L386.56 406.07 L393.47 402.68 L400 399.5 L405.95 396.59 L411.48 393.91 L416.88 391.38 L422.41 388.93 L428.36 386.49 L435 384 L442.64 381.41 L451.11 378.78 L460 376.16 L468.89 373.61 L477.36 371.2 L485 369 L491.97 366.99 L498.63 365.11 L504.88 363.38 L510.59 361.78 L515.67 360.32 L520 359 L523.47 357.82 L526.15 356.78 L528.19 355.88 L529.74 355.11 L530.96 354.49 L532 354" fill="none" stroke="#000" stroke-width="1.2" stroke-linejoin="round"/>
<path d="M253.5 512.5 L256.17 510.22 L259.87 507.06 L264.25 503.31 L268.96 499.28 L273.66 495.24 L278 491.5 L281.91 488.02 L285.67 484.57 L289.41 481.12 L293.28 477.65 L297.43 474.12 L302 470.5 L307.2 466.76 L312.96 462.91 L319 459 L325.04 455.09 L330.8 451.24 L336 447.5 L340.39 443.9 L344.15 440.39 L347.62 436.94 L351.19 433.5 L355.19 430.03 L360 426.5 L365.74 422.83 L372.15 419.06 L379 415.25 L386.07 411.5 L393.15 407.89 L400 404.5 L406.55 401.36 L412.96 398.41 L419.38 395.59 L425.93 392.87 L432.75 390.19 L440 387.5 L447.93 384.76 L456.48 382 L465.31 379.28 L474.07 376.67 L482.42 374.22 L490 372 L497.11 369.96 L504.07 368.04 L510.62 366.28 L516.48 364.74 L521.37 363.46 L525 362.5" fill="none" stroke="#000" stroke-width="1.2" stroke-linejoin="round"/>
<path d="M257 514 L259.73 512.06 L263.52 509.41 L268 506.25 L272.81 502.81 L277.6 499.32 L282 496 L285.95 492.81 L289.74 489.56 L293.5 486.25 L297.37 482.89 L301.49 479.47 L306 476 L311.12 472.42 L316.78 468.72 L322.69 464.97 L328.56 461.22 L334.09 457.55 L339 454 L342.97 450.65 L346.19 447.44 L349.06 444.31 L352.04 441.17 L355.54 437.92 L360 434.5 L365.57 430.81 L371.93 426.89 L378.81 422.88 L385.96 418.89 L393.11 415.06 L400 411.5 L406.55 408.27 L412.96 405.26 L419.38 402.41 L425.93 399.63 L432.75 396.85 L440 394 L448.04 390.98 L456.85 387.85 L465.94 384.72 L474.81 381.7 L483 378.92 L490 376.5 L495.9 374.4 L501.11 372.54 L505.62 370.91 L509.44 369.52 L512.57 368.38 L515 367.5" fill="none" stroke="#000" stroke-width="1.2" stroke-linejoin="round"/>
<path d="M288 484.7 L291.64 481.59 L296.63 477.17 L302.65 472.05 L309.38 466.79 L316.5 462 L324.3 457.6 L332.99 453.21 L342.13 448.92 L351.28 444.82 L360 441 L368.32 437.48 L376.54 434.19 L384.6 431.11 L392.44 428.22 L400 425.5 L407.73 422.84 L415.66 420.25 L423.14 417.89 L429.47 415.92 L434 414.5" fill="none" stroke="#000" stroke-width="1.2" stroke-linejoin="round"/>
<path d="M289.95 486.98 L293.61 483.85 L298.59 479.44 L304.55 474.37 L311.15 469.22 L318.07 464.55 L325.71 460.25 L334.3 455.91 L343.38 451.65 L352.5 447.56 L361.19 443.75 L369.46 440.25 L377.63 436.98 L385.65 433.92 L393.47 431.04 L401 428.33 L408.68 425.68 L416.58 423.1 L424.03 420.75 L430.37 418.79 L434.9 417.36" fill="none" stroke="#000" stroke-width="1.2" stroke-linejoin="round"/>
<path d="M291.9 489.26 L295.58 486.11 L300.56 481.71 L306.44 476.7 L312.91 471.65 L319.65 467.11 L327.12 462.9 L335.61 458.61 L344.63 454.38 L353.72 450.31 L362.38 446.51 L370.6 443.02 L378.72 439.78 L386.71 436.73 L394.49 433.86 L401.99 431.16 L409.64 428.52 L417.5 425.96 L424.93 423.62 L431.26 421.65 L435.8 420.22" fill="none" stroke="#000" stroke-width="1.2" stroke-linejoin="round"/>
<path d="M434 414.5 q4 1 3.5 4 q-1 3 -5 2.5" fill="none" stroke="#000" stroke-width="1.2" stroke-linejoin="round"/>
<path d="M536 351 L535.84 351.08 L535.8 350.89 L535.66 350.81 L535.2 351.22 L534.22 352.49 L532.5 355 L529.82 358.92 L526.31 364 L522.28 369.94 L518.02 376.44 L513.83 383.23 L510 390 L506.35 397.27 L502.59 405.37 L498.91 413.75 L495.46 421.85 L492.44 429.12 L490 435 L488.24 439.41 L487.04 442.78 L486.25 445.31 L485.74 447.22 L485.37 448.72 L485 450" fill="none" stroke="#000" stroke-width="1.2" stroke-linejoin="round"/>
<path d="M522.5 362.5 L519.99 367.21 L516.48 373.8 L512.34 381.56 L507.96 389.81 L503.72 397.86 L500 405 L496.64 411.53 L493.31 418.07 L490.12 424.41 L487.19 430.31 L484.61 435.58 L482.5 440 L480.95 443.47 L479.87 446.15 L479.16 448.19 L478.69 449.74 L478.34 450.96 L478 452" fill="none" stroke="#000" stroke-width="1.2" stroke-linejoin="round"/>
<path d="M512.5 370 L510.6 373.51 L507.96 378.33 L504.84 384.06 L501.48 390.28 L498.12 396.56 L495 402.5 L491.92 408.51 L488.66 415 L485.39 421.56 L482.31 427.78 L479.62 433.23 L477.5 437.5 L476.04 440.43 L475.09 442.31 L474.53 443.44 L474.21 444.07 L474 444.5 L473.75 445" fill="none" stroke="#000" stroke-width="1.2" stroke-linejoin="round"/>
<path d="M528 357 L525.45 361.35 L521.89 367.37 L517.69 374.5 L513.22 382.19 L508.87 389.87 L505 397 L501.38 404.13 L497.67 411.81 L494.06 419.5 L490.78 426.63 L488.02 432.65 L486 437" fill="none" stroke="#000" stroke-width="1.2" stroke-linejoin="round"/>
<path d="M275.3 497.4 L317.4 485.8 L330 481.5 L360 473.5 L400 463.7 L476.5 444.5" fill="none" stroke="#000" stroke-width="1.2" stroke-linejoin="round"/>
<path d="M262 515 L275.3 497.4" fill="none" stroke="#000" stroke-width="1.2" stroke-linejoin="round"/>
<path d="M270 506 L330 490.5 L360 483 L400 472.8 L470 455.5 L476 451 L477 446" fill="none" stroke="#000" stroke-width="1.2" stroke-linejoin="round"/>
<path d="M258 516 L296 505 Q299 508 297 511 L259 522 Q255.5 520 258 516Z" fill="none" stroke="#000" stroke-width="1.2" stroke-linejoin="round"/>
<path d="M259 519 L297 508" fill="none" stroke="#000" stroke-width="0.8" stroke-linejoin="round"/>
<path d="M300 503 L330 495 L360 487.4 L400 477.5 L471 459" fill="none" stroke="#000" stroke-width="1.2" stroke-linejoin="round"/>
<path d="M300 509 L330 501.5 L364 493" fill="none" stroke="#000" stroke-width="1.2" stroke-linejoin="round"/>
<path d="M328.4 488 L328.4 472 L360 462.5 L420 447.5 L437 443" fill="none" stroke="#000" stroke-width="1" stroke-dasharray="5.5 3" stroke-linejoin="round"/>
<path d="M446 412 l6 -2.5 M452 409.5 l4 -2 l3 1 l1 3 l-4 2.5 l-3 -1 z" fill="none" stroke="#000" stroke-width="0.9" stroke-linejoin="round"/>
<path d="M452.5 412.5 q-9 10 -10 28" fill="none" stroke="#000" stroke-width="0.9" stroke-linejoin="round"/>
<path d="M631.5 405 L630.88 406.39 L630.06 408.26 L629.03 410.56 L627.78 413.23 L626.3 416.2 L624.58 419.49 L622.64 423.16 L620.47 427.15 L618.09 431.44 L615.5 436 L612.59 440.94 L609.36 446.28 L605.97 451.85 L602.6 457.48 L599.4 463 L596.28 468.43 L593.13 473.9 L590.1 479.34 L587.33 484.73 L585 490 L583.19 495.12 L581.81 500.13 L580.7 505.07 L579.72 510.01 L578.7 515 L577.68 519.99 L576.77 524.94 L575.91 529.92 L575.07 535.02 L574.2 540.3 L573.29 546.11 L572.36 552.38 L571.44 558.63 L570.55 564.34 L569.7 569 L569.07 572 L568.66 573.69 L568.18 574.97 L567.39 576.76 L566 580 L563.88 585 L561.22 591.16 L558.21 597.97 L555.07 604.95 L552 611.6 L548.96 618.07 L545.82 624.7 L542.63 631.24 L539.47 637.49 L536.4 643.2 L533.46 648.4 L530.62 653.25 L527.8 657.71 L524.94 661.74 L522 665.3 L519.11 668.28 L516.32 670.69 L513.41 672.73 L510.14 674.57 L506.3 676.4 L502.15 678.09 L497.82 679.52 L492.95 680.88 L487.14 682.37 L480 684.2 L471.01 686.47 L460.43 689.05 L449.05 691.77 L437.64 694.48 L427 697 L416.87 699.4 L406.73 701.78 L396.95 704.07 L387.92 706.17 L380 708 L373.3 709.7 L367.57 711.33 L362.66 712.68 L358.41 713.53 L354.7 713.7 L351.7 713.09 L349.52 711.85 L347.86 710.09 L346.45 707.93 L345 705.5 L343.57 703.15 L342.35 700.8 L341.25 697.92 L340.17 693.97 L339 688.4 L337.68 680.59 L336.26 670.89 L334.87 660.26 L333.61 649.64 L332.6 640 L331.88 631.05 L331.37 622.15 L331.02 613.72 L330.75 606.2 L330.5 600 L330.33 595.47 L330.28 592.34 L330.27 590.06 L330.2 588.13 L330 586 L329.6 583.66 L329.05 581.45 L328.45 579.41 L327.9 577.58 L327.5 576 L327.22 574.76 L326.99 573.85 L326.85 573.11 L326.84 572.38 L327 571.5 L327.26 570.5 L327.61 569.49 L328.13 568.43 L328.9 567.28 L330 566 L331.07 564.86 L332.06 563.87 L333.5 562.65 L335.97 560.82 L340 558 L345.92 554 L353.36 549.09 L361.84 543.53 L370.88 537.58 L380 531.5 L389.36 525.17 L399.28 518.42 L409.52 511.42 L419.84 504.39 L430 497.5 L440 490.66 L450 483.73 L460 476.87 L470 470.24 L480 464 L490.16 458.08 L500.48 452.38 L510.72 446.99 L520.64 442 L530 437.5 L538.72 433.58 L546.96 430.19 L554.84 427.17 L562.48 424.41 L570 421.75 L577.46 419.2 L584.77 416.86 L591.85 414.72 L598.62 412.77 L605 411 L611.27 409.4 L617.48 407.97 L623.22 406.74 L628.03 405.74 L631.5 405" fill="none" stroke="#000" stroke-width="1.2" stroke-linejoin="round"/>
<path d="M625.96 409.41 L624.81 411.79 L623.33 414.68 L621.6 417.93 L619.64 421.55 L617.46 425.5 L615.07 429.75 L612.5 434.26 L609.62 439.17 L606.42 444.5 L603.06 450.09 L599.69 455.77 L596.51 461.33 L593.42 466.79 L590.29 472.29 L587.26 477.83 L584.47 483.36 L582.09 488.84 L580.24 494.19 L578.85 499.39 L577.75 504.45 L576.8 509.42 L575.83 514.41 L574.85 519.44 L573.98 524.44 L573.18 529.46 L572.39 534.57 L571.57 539.88 L570.71 545.71 L569.84 552.01 L568.98 558.26 L568.14 563.93 L567.34 568.55 L566.76 571.49 L566.4 573.01 L566.01 574.07 L565.24 575.83 L563.85 579.09 L561.74 584.08 L559.09 590.22 L556.08 597.02 L552.94 603.98 L549.88 610.62 L546.85 617.08 L543.71 623.68 L540.54 630.21 L537.4 636.41 L534.36 642.08 L531.44 647.24 L528.62 652.03 L525.85 656.41 L523.08 660.31 L520.26 663.75 L517.52 666.6 L514.92 668.89 L512.21 670.82 L509.12 672.59 L505.41 674.39 L501.39 676.04 L497.2 677.44 L492.39 678.79 L486.61 680.29 L479.47 682.13 L470.5 684.41 L459.94 687 L448.56 689.73 L437.16 692.45 L426.52 694.99 L416.4 697.4 L406.26 699.8 L396.49 702.1 L387.46 704.22 L379.53 706.06 L372.78 707.77 L367.03 709.39 L362.18 710.7 L358.15 711.5 L354.84 711.64 L352.4 711.13 L350.81 710.19 L349.53 708.78 L348.27 706.8 L346.86 704.38 L345.48 702.07 L344.39 699.9 L343.41 697.23 L342.4 693.44 L341.29 687.97 L340.02 680.22 L338.64 670.56 L337.28 659.96 L336.06 649.37 L335.09 639.77 L334.41 630.87 L333.94 622.02 L333.62 613.62 L333.38 606.1 L333.16 599.9 L333.03 595.39 L333.01 592.3 L333.03 590.01 L333 587.94 L332.81 585.62 L332.4 583.07 L331.86 580.69 L331.28 578.58 L330.77 576.78 L330.41 575.29 L330.14 574.07 L329.93 573.21 L329.85 572.82 L329.83 572.65 L329.93 572.16 L330.13 571.38 L330.38 570.64 L330.72 569.93 L331.27 569.11 L332.23 568.01 L333.23 566.94 L334.07 566.09 L335.35 565.02 L337.71 563.26 L341.7 560.47 L347.58 556.5 L355.01 551.6 L363.49 546.03 L372.54 540.08 L381.67 533.99 L391.04 527.65 L400.97 520.89 L411.2 513.89 L421.52 506.86 L431.69 499.98 L441.71 493.14 L451.73 486.24 L461.72 479.43 L471.69 472.87 L481.64 466.71 L491.75 460.89 L502.05 455.29 L512.27 450.01 L522.17 445.11 L531.48 440.67 L540.11 436.79 L548.24 433.41 L556.03 430.38 L563.62 427.59 L571.09 424.9 L578.49 422.33 L585.74 419.97 L592.77 417.81 L599.49 415.83 L605.81 414.06 L612.01 412.47 L618.17 411.05 L623.87 409.83 L625.96 409.41" fill="none" stroke="#000" stroke-width="1.2" stroke-linejoin="round"/>
<path d="M620.42 413.82 L618.63 416.36 L616.64 419.93 L614.45 423.84 L612.06 428.06 L609.5 432.53 L606.65 437.39 L603.48 442.72 L600.14 448.34 L596.79 454.06 L593.63 459.67 L590.57 465.14 L587.46 470.68 L584.42 476.31 L581.61 481.99 L579.18 487.68 L577.29 493.26 L575.88 498.65 L574.8 503.82 L573.88 508.84 L572.95 513.83 L572.02 518.89 L571.2 523.94 L570.44 529 L569.7 534.13 L568.93 539.45 L568.13 545.32 L567.32 551.64 L566.51 557.88 L565.74 563.53 L564.99 568.09 L564.44 570.97 L564.14 572.33 L563.85 573.18 L563.09 574.9 L561.71 578.17 L559.6 583.17 L556.95 589.29 L553.95 596.07 L550.82 603.02 L547.77 609.63 L544.74 616.08 L541.61 622.67 L538.45 629.17 L535.33 635.33 L532.31 640.95 L529.42 646.07 L526.62 650.82 L523.9 655.1 L521.22 658.89 L518.52 662.19 L515.93 664.92 L513.51 667.08 L511.01 668.9 L508.1 670.62 L504.53 672.37 L500.64 673.99 L496.57 675.37 L491.84 676.71 L486.07 678.22 L478.95 680.06 L469.99 682.35 L459.45 684.95 L448.08 687.7 L436.68 690.43 L426.05 692.98 L415.93 695.41 L405.8 697.82 L396.03 700.14 L387.01 702.26 L379.06 704.11 L372.26 705.83 L366.48 707.45 L361.7 708.73 L357.89 709.47 L354.97 709.58 L353.11 709.17 L352.11 708.54 L351.2 707.47 L350.09 705.66 L348.71 703.26 L347.4 700.99 L346.43 699 L345.56 696.54 L344.64 692.91 L343.59 687.55 L342.35 679.86 L341.02 670.23 L339.7 659.66 L338.51 649.09 L337.58 639.54 L336.93 630.7 L336.5 621.89 L336.21 613.52 L336.01 606 L335.83 599.79 L335.73 595.32 L335.75 592.27 L335.8 589.96 L335.79 587.76 L335.62 585.24 L335.21 582.48 L334.66 579.93 L334.1 577.74 L333.64 575.98 L333.33 574.58 L333.07 573.37 L332.87 572.56 L332.84 572.52 L332.82 572.93 L332.85 572.81 L333 572.25 L333.15 571.8 L333.32 571.44 L333.65 570.94 L334.46 570.01 L335.39 569.02 L336.09 568.31 L337.19 567.39 L339.46 565.7 L343.39 562.95 L349.25 559 L356.66 554.1 L365.14 548.54 L374.19 542.58 L383.34 536.48 L392.73 530.13 L402.65 523.36 L412.89 516.36 L423.2 509.33 L433.38 502.46 L443.43 495.63 L453.46 488.75 L463.44 481.98 L473.38 475.49 L483.27 469.42 L493.35 463.7 L503.62 458.21 L513.83 453.03 L523.7 448.21 L532.95 443.85 L541.49 440.01 L549.52 436.63 L557.23 433.59 L564.75 430.76 L572.19 428.05 L579.53 425.46 L586.71 423.08 L593.68 420.9 L600.36 418.9 L606.63 417.12 L612.76 415.53 L618.86 414.13 L620.42 413.82" fill="none" stroke="#000" stroke-width="1.2" stroke-linejoin="round"/>
<path d="M614.89 418.22 L613.65 418.32 L611.44 422.19 L609.04 426.36 L606.5 430.79 L603.68 435.62 L600.55 440.94 L597.23 446.58 L593.89 452.35 L590.74 458 L587.71 463.5 L584.63 469.08 L581.59 474.79 L578.74 480.62 L576.27 486.52 L574.34 492.34 L572.92 497.9 L571.84 503.2 L570.96 508.25 L570.08 513.24 L569.19 518.34 L568.41 523.44 L567.7 528.54 L567.02 533.69 L566.3 539.03 L565.55 544.93 L564.79 551.27 L564.05 557.51 L563.33 563.13 L562.63 567.64 L562.13 570.46 L561.89 571.65 L561.68 572.28 L560.95 573.97 L559.56 577.26 L557.46 582.25 L554.82 588.36 L551.83 595.12 L548.7 602.05 L545.65 608.65 L542.63 615.08 L539.51 621.66 L536.36 628.13 L533.26 634.25 L530.27 639.83 L527.39 644.91 L524.62 649.6 L521.95 653.8 L519.36 657.47 L516.77 660.64 L514.33 663.24 L512.11 665.28 L509.81 666.99 L507.07 668.64 L503.64 670.36 L499.89 671.95 L495.94 673.29 L491.28 674.63 L485.54 676.14 L478.42 678 L469.48 680.3 L458.95 682.9 L447.59 685.66 L436.2 688.4 L425.57 690.97 L415.46 693.41 L405.33 695.84 L395.58 698.17 L386.56 700.31 L378.59 702.17 L371.75 703.89 L365.94 705.51 L361.23 706.75 L357.63 707.44 L355.11 707.51 L353.81 707.21 L353.4 706.88 L352.87 706.17 L351.9 704.53 L350.57 702.14 L349.31 699.92 L348.46 698.09 L347.72 695.85 L346.88 692.38 L345.88 687.12 L344.69 679.49 L343.39 669.91 L342.11 659.35 L340.97 648.82 L340.07 639.3 L339.46 630.53 L339.06 621.77 L338.81 613.42 L338.64 605.9 L338.49 599.69 L338.43 595.24 L338.48 592.24 L338.57 589.91 L338.58 587.58 L338.42 584.86 L338.02 581.89 L337.47 579.18 L336.92 576.9 L336.51 575.18 L336.24 573.87 L336 572.67 L335.81 571.91 L335.83 572.23 L335.81 573.2 L335.78 573.47 L335.87 573.13 L335.92 572.95 L335.92 572.94 L336.02 572.77 L336.69 572.02 L337.55 571.1 L338.1 570.54 L339.03 569.75 L341.21 568.14 L345.09 565.42 L350.91 561.49 L358.31 556.61 L366.78 551.05 L375.85 545.08 L385.02 538.97 L394.41 532.61 L404.34 525.83 L414.57 518.83 L424.88 511.8 L435.07 504.94 L445.14 498.12 L455.19 491.25 L465.17 484.53 L475.07 478.11 L484.91 472.13 L494.94 466.51 L505.2 461.12 L515.38 456.04 L525.23 451.32 L534.43 447.02 L542.88 443.22 L550.8 439.86 L558.42 436.8 L565.89 433.94 L573.28 431.2 L580.56 428.59 L587.68 426.2 L594.59 423.99 L601.23 421.97 L607.44 420.18 L613.5 418.6 L614.89 418.22" fill="none" stroke="#000" stroke-width="1.2" stroke-linejoin="round"/>
<path d="M631.5 405 L625.96 409.41 L620.42 413.82 L614.89 418.22" fill="none" stroke="#000" stroke-width="0.9" stroke-linejoin="round"/>
<path d="M546.8 611 l2.4 2 M549.2 610.8 l-2 2.4" fill="none" stroke="#000" stroke-width="0.9" stroke-linejoin="round"/>
<path d="M530.8 643 l2.4 2 M533.2 642.8 l-2 2.4" fill="none" stroke="#000" stroke-width="0.9" stroke-linejoin="round"/>
<path d="M515.8 666 l2.4 2 M518.2 665.8 l-2 2.4" fill="none" stroke="#000" stroke-width="0.9" stroke-linejoin="round"/>
<path d="M495.8 676 l2.4 2 M498.2 675.8 l-2 2.4" fill="none" stroke="#000" stroke-width="0.9" stroke-linejoin="round"/>
<path d="M438.8 689 l2.4 2 M441.2 688.8 l-2 2.4" fill="none" stroke="#000" stroke-width="0.9" stroke-linejoin="round"/>
<path d="M393.8 700 l2.4 2 M396.2 699.8 l-2 2.4" fill="none" stroke="#000" stroke-width="0.9" stroke-linejoin="round"/>
<path d="M355.8 708 l2.4 2 M358.2 707.8 l-2 2.4" fill="none" stroke="#000" stroke-width="0.9" stroke-linejoin="round"/>
<path d="M300 600 L299.47 598.43 L298.67 596.3 L297.75 593.75 L296.89 590.93 L296.25 587.96 L296 585 L296.11 581.88 L296.44 578.44 L297 574.88 L297.78 571.33 L298.78 567.99 L300 565 L301.47 562.35 L303.19 559.89 L305.12 557.62 L307.26 555.56 L309.56 553.68 L312 552 L314.86 550.53 L318.22 549.26 L321.75 548.19 L325.11 547.3 L327.97 546.57 L330 546" fill="none" stroke="#000" stroke-width="1.2" stroke-linejoin="round"/>
<path d="M290 640 L289.15 636.74 L287.89 632.22 L286.44 626.88 L285 621.11 L283.78 615.35 L283 610 L282.62 604.88 L282.48 599.63 L282.56 594.38 L282.85 589.26 L283.34 584.42 L284 580 L284.87 576 L285.96 572.3 L287.25 568.88 L288.7 565.7 L290.3 562.75 L292 560 L294.03 557.4 L296.44 554.96 L299 552.75 L301.44 550.81 L303.53 549.21 L305 548" fill="none" stroke="#000" stroke-width="1.2" stroke-linejoin="round"/>
<path d="M272 655 L271.27 651.19 L270.19 645.93 L268.94 639.69 L267.7 632.96 L266.66 626.24 L266 620 L265.67 614.05 L265.52 607.96 L265.56 601.88 L265.81 595.93 L266.29 590.25 L267 585 L268.14 579.97 L269.74 575 L271.56 570.31 L273.37 566.11 L274.93 562.6 L276 560" fill="none" stroke="#000" stroke-width="1.2" stroke-linejoin="round"/>
<path d="M292 560 L292.85 561.52 L294 563.52 L295.38 565.94 L296.89 568.7 L298.46 571.75 L300 575 L301.57 578.59 L303.26 582.59 L305 586.88 L306.74 591.3 L308.43 595.72 L310 600 L311.37 604.28 L312.56 608.7 L313.69 613.12 L314.89 617.41 L316.28 621.41 L318 625 L320.27 628.25 L323.04 631.3 L326 634.06 L328.85 636.48 L331.29 638.48 L333 640" fill="none" stroke="#000" stroke-width="1.2" stroke-linejoin="round"/>
<circle cx="285" cy="591" r="2.2" fill="none" stroke="#000" stroke-width="0.9"/>
<path d="M261.6 554 L280.5 547 L281.6 565 L262.6 571Z" fill="none" stroke="#000" stroke-width="1.2" stroke-linejoin="round"/>
<ellipse cx="250.6" cy="571.5" rx="6.6" ry="19.5" fill="none" stroke="#000" stroke-width="1"/>
<ellipse cx="250.6" cy="571.5" rx="3.4" ry="15" fill="none" stroke="#000" stroke-width="0.8"/>
<path d="M250.6 558 v27 M247.5 565 h6 M247.5 578 h6" fill="none" stroke="#000" stroke-width="0.8" stroke-linejoin="round"/>
<circle cx="233.75" cy="530" r="1.1" fill="none" stroke="#000" stroke-width="0.8"/>
<circle cx="233.75" cy="538.75" r="1.1" fill="none" stroke="#000" stroke-width="0.8"/>
<circle cx="233.75" cy="547.5" r="1.1" fill="none" stroke="#000" stroke-width="0.8"/>
<circle cx="237.5" cy="620" r="1.1" fill="none" stroke="#000" stroke-width="0.8"/>
<circle cx="237.5" cy="631" r="1.1" fill="none" stroke="#000" stroke-width="0.8"/>
<circle cx="237.5" cy="642.5" r="1.1" fill="none" stroke="#000" stroke-width="0.8"/>
<path d="M240 575 L239.67 576.69 L239.11 579.07 L238.5 581.88 L238 584.81 L237.78 587.62 L238 590 L238.71 592.03 L239.78 593.93 L241.12 595.69 L242.67 597.3 L244.32 598.74 L246 600 L247.86 600.97 L250 601.63 L252.25 602.12 L254.44 602.59 L256.42 603.17 L258 604 L259.18 605.19 L260.07 606.67 L260.75 608.25 L261.26 609.78 L261.66 611.08 L262 612" fill="none" stroke="#000" stroke-width="1.2" stroke-linejoin="round"/>
<path d="M262 566 L261.4 567.55 L260.44 569.7 L259.38 572.25 L258.44 574.96 L257.9 577.62 L258 580 L258.88 582.21 L260.37 584.44 L262.25 586.62 L264.3 588.67 L266.29 590.49 L268 592 L269.54 593.18 L271.11 594.07 L272.62 594.75 L274 595.26 L275.15 595.66 L276 596" fill="none" stroke="#000" stroke-width="1.2" stroke-linejoin="round"/>
<path d="M320.12 536.3 L320.25 535.73 L320.41 534.9 L320.62 533.9 L320.9 532.84 L321.27 531.82 L321.78 530.96 L322.42 530.29 L323.15 529.72 L323.96 529.26 L324.85 528.94 L325.8 528.8 L326.73 528.93 L327.57 529.25 L328.4 529.71 L329.22 530.36 L330.01 531.22 L330.72 532.32 L331.34 533.68 L331.89 535.4 L332.39 537.47 L332.84 539.76 L333.22 542.12 L333.51 544.39 L333.7 546.44 L333.75 548.28 L333.69 550 L333.53 551.63 L333.32 553.18 L333.1 554.67 L332.89 556.12 L332.7 557.55 L332.5 558.93 L332.27 560.28 L332.02 561.61 L331.72 562.93 L331.36 564.26 L330.9 565.67 L330.34 567.15 L329.74 568.6 L329.16 569.93 L328.67 571.05 L328.33 571.85" fill="none" stroke="#000" stroke-width="1" stroke-linejoin="round"/>
<path d="M321.88 536.7 L322.02 536.1 L322.18 535.26 L322.38 534.31 L322.62 533.37 L322.91 532.58 L323.22 532.04 L323.62 531.63 L324.15 531.22 L324.72 530.89 L325.3 530.68 L325.81 530.6 L326.27 530.67 L326.8 530.88 L327.4 531.2 L327.99 531.67 L328.58 532.31 L329.14 533.18 L329.66 534.32 L330.15 535.88 L330.63 537.85 L331.06 540.08 L331.44 542.38 L331.72 544.59 L331.9 546.56 L331.95 548.27 L331.89 549.88 L331.74 551.43 L331.54 552.93 L331.32 554.41 L331.11 555.88 L330.92 557.3 L330.72 558.66 L330.5 559.97 L330.26 561.24 L329.97 562.5 L329.64 563.74 L329.2 565.06 L328.66 566.48 L328.08 567.9 L327.51 569.21 L327.02 570.33 L326.67 571.15" fill="none" stroke="#000" stroke-width="1" stroke-linejoin="round"/>
<path d="M349.77 549.53 L349.14 548.67 L348.24 547.46 L347.18 546.03 L346.07 544.47 L345.04 542.9 L344.2 541.41 L343.55 540.01 L342.99 538.61 L342.51 537.2 L342.13 535.81 L341.82 534.45 L341.61 533.12 L341.47 531.83 L341.4 530.54 L341.41 529.28 L341.54 528.03 L341.78 526.82 L342.16 525.67 L342.67 524.58 L343.29 523.55 L344.03 522.57 L344.9 521.65 L345.9 520.8 L347.02 520.04 L348.15 519.37 L349.3 518.77 L350.6 518.23 L352.14 517.75 L354.02 517.31 L356.39 516.91 L359.43 516.64 L363.05 516.53 L367.01 516.46 L371.04 516.31 L374.88 515.97 L378.28 515.33 L381.26 514.34 L384.06 513.07 L386.73 511.59 L389.34 509.99 L391.92 508.34 L394.53 506.73 L397.28 505.04 L400.17 503.17 L403.03 501.26 L405.66 499.47 L407.88 497.95 L409.5 496.85" fill="none" stroke="#000" stroke-width="1" stroke-linejoin="round"/>
<path d="M351.23 548.47 L350.59 547.59 L349.68 546.39 L348.63 544.97 L347.56 543.46 L346.57 541.96 L345.8 540.59 L345.2 539.3 L344.68 537.99 L344.24 536.67 L343.87 535.37 L343.59 534.11 L343.39 532.88 L343.26 531.68 L343.2 530.51 L343.21 529.37 L343.32 528.3 L343.52 527.28 L343.84 526.33 L344.26 525.43 L344.78 524.56 L345.41 523.73 L346.14 522.96 L346.99 522.24 L347.98 521.56 L349.03 520.94 L350.07 520.4 L351.21 519.92 L352.6 519.48 L354.37 519.08 L356.61 518.69 L359.53 518.43 L363.1 518.33 L367.06 518.26 L371.15 518.11 L375.12 517.75 L378.72 517.07 L381.91 516.01 L384.87 514.68 L387.64 513.15 L390.29 511.51 L392.88 509.86 L395.47 508.27 L398.24 506.57 L401.16 504.67 L404.03 502.75 L406.67 500.95 L408.89 499.43 L410.5 498.35" fill="none" stroke="#000" stroke-width="1" stroke-linejoin="round"/>
<path d="M343.74 527.29 L343.37 528.25 L342.81 529.53 L342.18 531.04 L341.58 532.69 L341.08 534.4 L340.8 536.07 L340.78 537.83 L340.98 539.83 L341.29 541.95 L341.61 544.09 L341.82 546.16 L341.8 548.07 L341.47 549.85 L340.94 551.53 L340.29 553.08 L339.64 554.43 L339.09 555.52 L338.73 556.33" fill="none" stroke="#000" stroke-width="0.9" stroke-linejoin="round"/>
<path d="M342.26 526.71 L341.89 527.64 L341.34 528.91 L340.69 530.46 L340.05 532.2 L339.52 534.04 L339.2 535.93 L339.18 537.91 L339.39 540.02 L339.71 542.18 L340.02 544.28 L340.22 546.24 L340.2 547.93 L339.92 549.46 L339.43 550.98 L338.83 552.42 L338.21 553.72 L337.65 554.83 L337.27 555.67" fill="none" stroke="#000" stroke-width="0.9" stroke-linejoin="round"/>
<path d="M321 536.5 q-2 4 1 8 q4 5 3 12" fill="none" stroke="#000" stroke-width="1" stroke-linejoin="round"/>
<circle cx="346.9" cy="515.3" r="3.8" fill="#fff" stroke="#000" stroke-width="1"/>
<circle cx="371.4" cy="509.2" r="3.8" fill="#fff" stroke="#000" stroke-width="1"/>
<circle cx="397.4" cy="488.7" r="3.6" fill="none" stroke="#000" stroke-width="1" stroke-dasharray="17 6"/>
<path d="M385.5 501.5 l6 4 M385.8 506 l5.6 -4.4 M376 507.5 l8 -2.4 M392.5 503 l6 -2" fill="none" stroke="#000" stroke-width="1" stroke-linejoin="round"/>
<path d="M333.4 519.5 L333.4 502 L361 495 L362.7 508.4" fill="none" stroke="#000" stroke-width="1.2" stroke-linejoin="round"/>
<path d="M362.7 508.4 l4.6 -1.2" fill="none" stroke="#000" stroke-width="1.2" stroke-linejoin="round"/>
<path d="M352.2 541.2 L360.4 553.4" fill="none" stroke="#000" stroke-width="1.2" stroke-linejoin="round"/>
<path d="M356.2 538.6 L364.2 550.6" fill="none" stroke="#000" stroke-width="1.2" stroke-linejoin="round"/>
<path d="M360.8 571.8 L383.5 570.4 L383.5 555.6 L387.5 555.2 L387.5 561 L390.8 560.8 L390.8 555 L394.6 554.8 L394.6 562 L397.3 561.6 L397.3 554.4 L401 554 L401 559.6 L405 559.2 L405 553.6 L409.2 553.4 L409.2 569.6 L413.5 569.2 L413.5 566.4 L418 566 L418 572.5 L409 574 L407 580.4 L394 581.4 L386 583.4 L360.8 582.6Z" fill="none" stroke="#000" stroke-width="1.4" stroke-linejoin="round"/>
<path d="M383.5 570.4 L387 574.6 L388.6 581.8" fill="none" stroke="#000" stroke-width="1.2" stroke-linejoin="round"/>
<path d="M394.6 562 L395.4 569.8 L391.5 574.8 L392.6 581.5" fill="none" stroke="#000" stroke-width="1.2" stroke-linejoin="round"/>
<path d="M387 574.6 L391.5 574.8" fill="none" stroke="#000" stroke-width="1" stroke-linejoin="round"/>
<path d="M397.3 561.6 L398 569.5 L409 569.2" fill="none" stroke="#000" stroke-width="1.1" stroke-linejoin="round"/>
<path d="M364 571.6 l0 -3.4 l4.6 -0.3 l0 3.4 M401.5 563.4 l2 2 l2.4 -1.6 M386.6 566 l2 1.6" fill="none" stroke="#000" stroke-width="1" stroke-linejoin="round"/>
<path d="M362.5 582.6 l0 3.2 l5 -0.2 l0 -3" fill="none" stroke="#000" stroke-width="1" stroke-linejoin="round"/>
<path d="M454 493 L454.41 494.76 L455.05 497.11 L455.78 499.94 L456.44 503.11 L456.89 506.51 L457 510 L456.72 513.78 L456.16 518 L455.4 522.44 L454.5 526.89 L453.55 531.15 L452.6 535 L451.67 538.36 L450.69 541.37 L449.65 544.19 L448.53 546.96 L447.32 549.85 L446 553 L444.51 556.49 L442.84 560.22 L441.09 564.06 L439.31 567.89 L437.59 571.58 L436 575 L434.57 578.18 L433.26 581.22 L432 584.12 L430.74 586.89 L429.43 589.51 L428 592 L426.52 594.36 L425.04 596.61 L423.5 598.72 L421.85 600.67 L420.04 602.43 L418 604 L415.75 605.4 L413.33 606.65 L410.75 607.72 L408 608.57 L405.08 609.18 L402 609.5 L398.61 609.5 L394.89 609.2 L391 608.66 L387.11 607.91 L383.39 607.01 L380 606 L376.95 604.8 L374.11 603.35 L371.44 601.75 L368.89 600.09 L366.42 598.48 L364 597 L361.51 595.58 L358.96 594.11 L356.5 592.69 L354.26 591.39 L352.38 590.3 L351 589.5" fill="none" stroke="#000" stroke-width="1.2" stroke-linejoin="round"/>
<path d="M477 511.2 L438.3 588.9" fill="none" stroke="#000" stroke-width="1.3" stroke-linejoin="round"/>
<path d="M474.5 527 L441.5 594.5" fill="none" stroke="#000" stroke-width="1.2" stroke-linejoin="round"/>
<path d="M373.7 587.5 L374.45 588.02 L375.46 588.76 L376.66 589.62 L378.02 590.52 L379.48 591.34 L381 592 L382.61 592.54 L384.36 593.04 L386.21 593.47 L388.12 593.8 L390.07 593.98 L392 594 L393.95 593.85 L395.96 593.57 L398 593.16 L400.04 592.59 L402.05 591.88 L404 591 L406.02 589.8 L408.15 588.26 L410.25 586.56 L412.19 584.91 L413.81 583.49 L415 582.5" fill="none" stroke="#000" stroke-width="1.2" stroke-linejoin="round"/>
<path d="M388.5 597.5 q-1.5 -3 2.5 -4 l7 -1.2 q3.5 0 3 3 q-0.5 2.5 -4 3.2 l-5.5 1 q-2.5 0 -3 -2 z" fill="none" stroke="#000" stroke-width="1.2" stroke-linejoin="round"/>
<path d="M451 581 L472 572.7" fill="none" stroke="#000" stroke-width="1.2" stroke-linejoin="round"/>
<path d="M444.7 593.7 L470.6 589" fill="none" stroke="#000" stroke-width="1.2" stroke-linejoin="round"/>
<path d="M462 548 L473 545" fill="none" stroke="#000" stroke-width="1.2" stroke-linejoin="round"/>
<path d="M447 500 L447.21 502.15 L447.59 505.11 L448 508.62 L448.3 512.44 L448.34 516.32 L448 520 L447.23 523.6 L446.15 527.33 L444.81 531.12 L443.3 534.89 L441.67 538.54 L440 542 L438.09 545.44 L435.85 548.96 L433.5 552.38 L431.26 555.48 L429.35 558.09 L428 560" fill="none" stroke="#000" stroke-width="1.2" stroke-linejoin="round"/>
<path d="M400 520 L402.18 519.09 L405.19 517.81 L408.75 516.31 L412.59 514.74 L416.44 513.25 L420 512 L423.48 510.88 L427.15 509.74 L430.81 508.69 L434.3 507.81 L437.42 507.22 L440 507 L442.08 507.22 L443.81 507.81 L445.19 508.69 L446.19 509.74 L446.79 510.88 L447 512 L446.79 513.18 L446.19 514.52 L445.19 515.94 L443.81 517.37 L442.08 518.75 L440 520 L437.42 521.1 L434.3 522.11 L430.81 523.06 L427.15 524 L423.48 524.97 L420 526 L416.44 527.19 L412.59 528.52 L408.75 529.88 L405.19 531.15 L402.18 532.23 L400 533" fill="none" stroke="#000" stroke-width="1.2" stroke-linejoin="round"/>
<path d="M385 540 L387.71 539 L391.44 537.59 L395.88 535.94 L400.67 534.19 L405.49 532.49 L410 531 L414.58 529.64 L419.56 528.26 L424.56 526.94 L429.22 525.74 L433.16 524.74 L436 524" fill="none" stroke="#000" stroke-width="1.2" stroke-linejoin="round"/>
<path d="M432 600 L470 590 L474 576" fill="none" stroke="#000" stroke-width="1.2" stroke-linejoin="round"/>
<path d="M436 606 L472 596" fill="none" stroke="#000" stroke-width="1.2" stroke-linejoin="round"/>
<circle cx="419" cy="602" r="3.3" fill="#fff" stroke="#000" stroke-width="1"/>
<circle cx="470" cy="596" r="1.4" fill="none" stroke="#000" stroke-width="0.9"/>
<path d="M474 611 l3 -6 l-7 1 z" fill="none" stroke="#000" stroke-width="0.9" stroke-linejoin="round"/>
<path d="M336 563 L358 548" fill="none" stroke="#000" stroke-width="1.6" stroke-linejoin="round"/>
<path d="M298.4 593.7 L298.4 655 L305 686 L320 728.5 L335 740 L352.5 746 L395 746" fill="none" stroke="#000" stroke-width="1.1" stroke-dasharray="5.5 3" stroke-linejoin="round"/>
<path d="M298.4 593.7 L330 589.5" fill="none" stroke="#000" stroke-width="1.3" stroke-dasharray="5.5 3" stroke-linejoin="round"/>
<path d="M305 686 L332 676" fill="none" stroke="#000" stroke-width="1.3" stroke-dasharray="5.5 3" stroke-linejoin="round"/>
<path d="M320 728.5 L338 705" fill="none" stroke="#000" stroke-width="1.3" stroke-dasharray="5.5 3" stroke-linejoin="round"/>
<path d="M352.5 746 L356 712" fill="none" stroke="#000" stroke-width="1.3" stroke-dasharray="5.5 3" stroke-linejoin="round"/>
<path d="M237 592 q2 -5 8 -4 q4 1 5 5 q8 -1 12 3 q4 5 2 12 l4 6 l-6 8 l-3 -7 q-8 1 -13 -4 q-7 -7 -9 -19 z" fill="none" stroke="#000" stroke-width="1.2" stroke-linejoin="round"/>
<path d="M241 596 q6 4 9 10 q5 2 9 0 M252 612 l6 3 l4 -5" fill="none" stroke="#000" stroke-width="0.9" stroke-linejoin="round"/>
<path d="M275 591.6 L274.63 593.4 L274.07 595.9 L273.44 598.86 L272.81 602.03 L272.3 605.16 L272 608 L271.9 610.6 L271.93 613.18 L272.06 615.71 L272.3 618.2 L272.61 620.63 L273 623 L273.46 625.34 L274.01 627.67 L274.64 629.94 L275.36 632.11 L276.14 634.15 L277 636 L277.94 637.68 L278.97 639.22 L280.08 640.62 L281.25 641.89 L282.46 643.01 L283.7 644 L285.09 644.82 L286.66 645.48 L288.27 646 L289.79 646.41 L291.08 646.73 L292 647" fill="none" stroke="#000" stroke-width="1.2" stroke-linejoin="round"/>
<path d="M281 590 L280.62 591.87 L280.06 594.48 L279.41 597.56 L278.78 600.85 L278.27 604.09 L278 607 L277.95 609.65 L278.06 612.26 L278.28 614.81 L278.61 617.3 L279.02 619.7 L279.5 622 L280.05 624.23 L280.69 626.41 L281.41 628.5 L282.2 630.48 L283.07 632.32 L284 634 L285.1 635.54 L286.41 636.96 L287.78 638.25 L289.09 639.37 L290.21 640.3 L291 641" fill="none" stroke="#000" stroke-width="1.2" stroke-linejoin="round"/>
<path d="M252 630 L252.39 631.35 L252.89 633.26 L253.5 635.5 L254.22 637.85 L255.06 640.09 L256 642 L257.06 643.63 L258.22 645.17 L259.5 646.59 L260.89 647.89 L262.39 649.03 L264 650 L265.91 650.76 L268.15 651.33 L270.5 651.75 L272.74 652.06 L274.65 652.29 L276 652.5" fill="none" stroke="#000" stroke-width="1.2" stroke-linejoin="round"/>
<path d="M258 628 L258.39 629.12 L258.89 630.7 L259.5 632.56 L260.22 634.52 L261.06 636.39 L262 638 L263.08 639.4 L264.3 640.74 L265.62 642 L267.04 643.15 L268.5 644.16 L270 645 L271.67 645.65 L273.56 646.11 L275.5 646.44 L277.33 646.67 L278.89 646.84 L280 647" fill="none" stroke="#000" stroke-width="1.2" stroke-linejoin="round"/>
<path d="M240 662 L296 647.5" fill="none" stroke="#000" stroke-width="0.9" stroke-linejoin="round"/>
<path d="M268 599 L268 607 L272 607" fill="none" stroke="#000" stroke-width="0.9" stroke-linejoin="round"/>
<path d="M196 497.5 L208 493 L219 484.5 L227 483.5" fill="none" stroke="#000" stroke-width="0.8" stroke-linejoin="round"/>
<path d="M272 590 L272.49 588.97 L273.11 587.52 L273.88 585.81 L274.78 584.04 L275.82 582.37 L277 581 L278.37 579.87 L279.93 578.81 L281.62 577.88 L283.41 577.07 L285.22 576.44 L287 576 L288.79 575.75 L290.63 575.67 L292.5 575.75 L294.37 576 L296.21 576.42 L298 577 L299.84 577.9 L301.78 579.15 L303.69 580.56 L305.44 581.96 L306.92 583.17 L308 584" fill="none" stroke="#000" stroke-width="1.2" stroke-linejoin="round"/>
<path d="M276 592 L276.39 591.2 L276.89 590.07 L277.5 588.75 L278.22 587.37 L279.06 586.07 L280 585 L281.09 584.1 L282.33 583.26 L283.69 582.5 L285.11 581.85 L286.56 581.34 L288 581 L289.47 580.83 L291 580.81 L292.56 580.94 L294.11 581.19 L295.6 581.54 L297 582 L298.36 582.66 L299.74 583.56 L301.06 584.56 L302.26 585.56 L303.26 586.41 L304 587" fill="none" stroke="#000" stroke-width="0.9" stroke-linejoin="round"/>
<circle cx="313.7" cy="539.2" r="4.4" fill="#fff" stroke="#000" stroke-width="1"/>
<circle cx="318.4" cy="530.5" r="2" fill="none" stroke="#000" stroke-width="0.9"/>
<path d="M310.5 543 l-7.5 8 l-1 5.5 l8.5 1.2 M316.5 543.5 l0.5 13 l-2.5 14 M302 556.5 l1.5 12 l5 6 M310.5 557.7 l0 14" fill="none" stroke="#000" stroke-width="0.95" stroke-linejoin="round"/>
<path d="M164.25 44.5 L164.25 86" fill="none" stroke="#000" stroke-width="1.5" stroke-linejoin="round"/>
<path d="M575.5 30.4 L607 30.4" fill="none" stroke="#000" stroke-width="1.5" stroke-linejoin="round"/>
<path d="M482.5 79.5 L518.75 79.5" fill="none" stroke="#000" stroke-width="1.5" stroke-linejoin="round"/>
<path d="M500 142.5 L530 142.5" fill="none" stroke="#000" stroke-width="1.5" stroke-linejoin="round"/>
<path d="M536 207.5 L570 207.5" fill="none" stroke="#000" stroke-width="1.9" stroke-linejoin="round"/>
<path d="M497.5 256 L526 256" fill="none" stroke="#000" stroke-width="1.5" stroke-linejoin="round"/>
<path d="M333.75 235 L333.75 283" fill="none" stroke="#000" stroke-width="1.5" stroke-linejoin="round"/>
<path d="M66.25 218 L66.25 289" fill="none" stroke="#000" stroke-width="1.5" stroke-linejoin="round"/>
<path d="M130 265 L130 303 L121 315.5" fill="none" stroke="#000" stroke-width="1.5" stroke-linejoin="round"/>
<path d="M192.5 308 L192.5 332 L170 344" fill="none" stroke="#000" stroke-width="1.5" stroke-linejoin="round"/>
<path d="M101 345.5 L101 377" fill="none" stroke="#000" stroke-width="1.9" stroke-linejoin="round"/>
<path d="M346 319 L365 319" fill="none" stroke="#000" stroke-width="1.5" stroke-linejoin="round"/>
<path d="M581 308 L595 322.5 L617.5 322.5" fill="none" stroke="#000" stroke-width="1.5" stroke-linejoin="round"/>
<path d="M276 364 L302.5 364" fill="none" stroke="#000" stroke-width="1.7" stroke-linejoin="round"/>
<path d="M281 404 L296 404" fill="none" stroke="#000" stroke-width="1.5" stroke-linejoin="round"/>
<path d="M562.5 380.5 L593.75 380.5" fill="none" stroke="#000" stroke-width="1.5" stroke-linejoin="round"/>
<path d="M110.75 436.75 L110.75 486.5" fill="none" stroke="#000" stroke-width="1.5" stroke-linejoin="round"/>
<path d="M172.5 469 L172.5 493 L156 509" fill="none" stroke="#000" stroke-width="1.5" stroke-linejoin="round"/>
<path d="M77.5 478 L77.5 523" fill="none" stroke="#000" stroke-width="1.5" stroke-linejoin="round"/>
<path d="M661 439 L661 458" fill="none" stroke="#000" stroke-width="1.5" stroke-linejoin="round"/>
<path d="M629.75 496.75 L629.75 708.5" fill="none" stroke="#000" stroke-width="1.5" stroke-linejoin="round"/>
<path d="M629.75 731 L629.75 813.5" fill="none" stroke="#000" stroke-width="1.5" stroke-linejoin="round"/>
<path d="M696.25 576 L696.25 609.75" fill="none" stroke="#000" stroke-width="1.5" stroke-linejoin="round"/>
<path d="M67.5 645.5 L67.5 672" fill="none" stroke="#000" stroke-width="1.5" stroke-linejoin="round"/>
<path d="M61.75 716 L61.75 742" fill="none" stroke="#000" stroke-width="1.9" stroke-linejoin="round"/>
<path d="M213.75 657.5 L213.75 743.5 L293 743.5 L293 666" fill="none" stroke="#000" stroke-width="1.5" stroke-linejoin="round"/>
<path d="M257.5 743.5 L257.5 752" fill="none" stroke="#000" stroke-width="1.5" stroke-linejoin="round"/>
<path d="M100 795.3 L107.4 802.6 L107.4 822" fill="none" stroke="#000" stroke-width="1.7" stroke-linejoin="round"/>
<path d="M333.75 861.5 L367.5 861.5" fill="none" stroke="#000" stroke-width="1.5" stroke-linejoin="round"/>
<path d="M100.75 882.75 L100.75 909" fill="none" stroke="#000" stroke-width="1.9" stroke-linejoin="round"/>
<path d="M119.5 955.25 L119.5 1006.5" fill="none" stroke="#000" stroke-width="1.5" stroke-linejoin="round"/>
<path d="M119.5 1026.5 L119.5 1051.5 L276.75 1051.5 L276.75 1004" fill="none" stroke="#000" stroke-width="1.5" stroke-linejoin="round"/>
<path d="M198 979 L198 1026.5" fill="none" stroke="#000" stroke-width="1.9" stroke-linejoin="round"/>
<path d="M198 1046.5 L198 1060" fill="none" stroke="#000" stroke-width="1.9" stroke-linejoin="round"/>
<path d="M401.25 685 L401.25 787" fill="none" stroke="#000" stroke-width="1.5" stroke-linejoin="round"/>
<path d="M401.25 805 L401.25 813.5 L674.5 813.5 L674.5 806" fill="none" stroke="#000" stroke-width="1.5" stroke-linejoin="round"/>
<path d="M452.5 691 L452.5 813.5" fill="none" stroke="#000" stroke-width="1.5" stroke-linejoin="round"/>
<path d="M494.25 757 L494.25 764" fill="none" stroke="#000" stroke-width="1.5" stroke-linejoin="round"/>
<path d="M494.25 806 L494.25 813.5" fill="none" stroke="#000" stroke-width="1.5" stroke-linejoin="round"/>
<path d="M537.5 813.5 L537.5 822" fill="none" stroke="#000" stroke-width="1.5" stroke-linejoin="round"/>
<path d="M585 658.5 L585 741" fill="none" stroke="#000" stroke-width="1.9" stroke-linejoin="round"/>
<path d="M585 761 L585 813.5" fill="none" stroke="#000" stroke-width="1.9" stroke-linejoin="round"/>
<path d="M674.5 669.75 L674.5 764" fill="none" stroke="#000" stroke-width="1.5" stroke-linejoin="round"/>
<path d="M461.25 870.25 L482.5 889 L496.25 889" fill="none" stroke="#000" stroke-width="1.5" stroke-linejoin="round"/>
<path d="M672 864 L672 880.25" fill="none" stroke="#000" stroke-width="1.5" stroke-linejoin="round"/>
<path d="M677.5 926.5 L712.5 926.5" fill="none" stroke="#000" stroke-width="1.5" stroke-linejoin="round"/>
<path d="M588.75 1006.5 L620 1006.5" fill="none" stroke="#000" stroke-width="1.5" stroke-linejoin="round"/>
<path d="M512.5 30 L522.5 37.5 L557 29.5" fill="none" stroke="#000" stroke-width="1.3" stroke-dasharray="5.5 3" stroke-linejoin="round"/>
<path d="M497.5 187.5 L515 199" fill="none" stroke="#000" stroke-width="1.3" stroke-dasharray="5.5 3" stroke-linejoin="round"/>
<path d="M77.5 299 L150 342" fill="none" stroke="#000" stroke-width="1.3" stroke-dasharray="5.5 3" stroke-linejoin="round"/>
<path d="M114 343 L188 384.5" fill="none" stroke="#000" stroke-width="1.3" stroke-dasharray="5.5 3" stroke-linejoin="round"/>
<path d="M232 412.5 L296 445.5" fill="none" stroke="#000" stroke-width="1.3" stroke-dasharray="5.5 3" stroke-linejoin="round"/>
<path d="M296 445.5 L296 521.75" fill="none" stroke="#000" stroke-width="2.2" stroke-dasharray="5.5 3" stroke-linejoin="round"/>
<path d="M331 315 L318.75 306.75 L318.75 341" fill="none" stroke="#000" stroke-width="1.3" stroke-dasharray="5.5 3" stroke-linejoin="round"/>
<path d="M318.75 384.5 L318.75 530.5" fill="none" stroke="#000" stroke-width="1.3" stroke-dasharray="5.5 3" stroke-linejoin="round"/>
<path d="M260 376.75 L260 393" fill="none" stroke="#000" stroke-width="2.2" stroke-dasharray="5.5 3" stroke-linejoin="round"/>
<path d="M260 412 L260 500" fill="none" stroke="#000" stroke-width="2.2" stroke-dasharray="5.5 3" stroke-linejoin="round"/>
<path d="M307.5 415.5 L307.5 485.5" fill="none" stroke="#000" stroke-width="1.3" stroke-dasharray="5.5 3" stroke-linejoin="round"/>
<path d="M562.5 313 L562.5 326.75 L438.75 365.5 L438.75 453" fill="none" stroke="#000" stroke-width="1.3" stroke-dasharray="5.5 3" stroke-linejoin="round"/>
<path d="M546 375.5 L533.75 368 L533.75 544 L480 511.75" fill="none" stroke="#000" stroke-width="1.3" stroke-dasharray="5.5 3" stroke-linejoin="round"/>
<path d="M487.5 476.75 L570 455.5 L652.5 433" fill="none" stroke="#000" stroke-width="1.3" stroke-dasharray="5.5 3" stroke-linejoin="round"/>
<path d="M625 493 L576 509" fill="none" stroke="#000" stroke-width="1.3" stroke-dasharray="5.5 3" stroke-linejoin="round"/>
<path d="M574 515 L612.5 505.5 L602.5 555.5 L588.4 611" fill="none" stroke="#000" stroke-width="1.3" stroke-dasharray="5.5 3" stroke-linejoin="round"/>
<path d="M570.5 542.2 L607.5 534.25" fill="none" stroke="#000" stroke-width="1.3" stroke-dasharray="5.5 3" stroke-linejoin="round"/>
<path d="M567.5 571.5 L602 569" fill="none" stroke="#000" stroke-width="1.3" stroke-dasharray="5.5 3" stroke-linejoin="round"/>
<path d="M565.5 586.5 L600 577.4" fill="none" stroke="#000" stroke-width="1.3" stroke-dasharray="5.5 3" stroke-linejoin="round"/>
<path d="M588.4 611 L563 596" fill="none" stroke="#000" stroke-width="1.3" stroke-dasharray="5.5 3" stroke-linejoin="round"/>
<path d="M546 626 L577 645" fill="none" stroke="#000" stroke-width="1.3" stroke-dasharray="5.5 3" stroke-linejoin="round"/>
<path d="M66 465.5 L37.5 450.5 L37.5 530.5" fill="none" stroke="#000" stroke-width="1.3" stroke-dasharray="5.5 3" stroke-linejoin="round"/>
<path d="M82.5 475.5 L100 487" fill="none" stroke="#000" stroke-width="1.3" stroke-dasharray="5.5 3" stroke-linejoin="round"/>
<path d="M117.5 495.5 L140 510.5" fill="none" stroke="#000" stroke-width="1.3" stroke-dasharray="5.5 3" stroke-linejoin="round"/>
<path d="M37.5 572 L37.5 604.75 L190 563.5 L290 537.5" fill="none" stroke="#000" stroke-width="1.3" stroke-dasharray="5.5 3" stroke-linejoin="round"/>
<path d="M290 537.5 L290 582.5" fill="none" stroke="#000" stroke-width="1.3" stroke-dasharray="5.5 3" stroke-linejoin="round"/>
<path d="M75 675.5 L190 642 L300 610" fill="none" stroke="#000" stroke-width="1.3" stroke-dasharray="5.5 3" stroke-linejoin="round"/>
<path d="M67.5 746 L80 743.5 L80 776 L86 776" fill="none" stroke="#000" stroke-width="1.3" stroke-dasharray="5.5 3" stroke-linejoin="round"/>
<path d="M68.75 798 L68.75 874 L85 874" fill="none" stroke="#000" stroke-width="1.3" stroke-dasharray="5.5 3" stroke-linejoin="round"/>
<path d="M105 780 L160 766 L160 594.75 L190 587 L290 563.5" fill="none" stroke="#000" stroke-width="1.3" stroke-dasharray="5.5 3" stroke-linejoin="round"/>
<path d="M169.5 650 L169.5 556" fill="none" stroke="#000" stroke-width="1.8" stroke-dasharray="5.5 3" stroke-linejoin="round"/>
<path d="M169.5 556 L290 538" fill="none" stroke="#000" stroke-width="1.2" stroke-dasharray="5.5 3" stroke-linejoin="round"/>
<path d="M352.5 600 L352.5 850 L367 857.4" fill="none" stroke="#000" stroke-width="1.3" stroke-dasharray="5.5 3" stroke-linejoin="round"/>
<path d="M418.75 633.5 L418.75 786" fill="none" stroke="#000" stroke-width="2.2" stroke-dasharray="5.5 3" stroke-linejoin="round"/>
<path d="M418.75 818.5 L418.75 837.75" fill="none" stroke="#000" stroke-width="2.2" stroke-dasharray="5.5 3" stroke-linejoin="round"/>
<path d="M418.75 837.75 L451 857.75" fill="none" stroke="#000" stroke-width="1.3" stroke-dasharray="5.5 3" stroke-linejoin="round"/>
<path d="M494.25 683.5 L494.25 737" fill="none" stroke="#000" stroke-width="2.2" stroke-dasharray="5.5 3" stroke-linejoin="round"/>
<path d="M369 592.6 L369 660" fill="none" stroke="#000" stroke-width="2.2" stroke-dasharray="5.5 3" stroke-linejoin="round"/>
<path d="M369 660 L391 672" fill="none" stroke="#000" stroke-width="1.3" stroke-dasharray="5.5 3" stroke-linejoin="round"/>
<path d="M408 575.8 L530 643.5 L570 667 L617.5 696 L617.5 709" fill="none" stroke="#000" stroke-width="1.3" stroke-dasharray="5.5 3" stroke-linejoin="round"/>
<path d="M617.5 730 L617.5 740.5" fill="none" stroke="#000" stroke-width="1.3" stroke-dasharray="5.5 3" stroke-linejoin="round"/>
<path d="M617.5 759.5 L617.5 865.25 L645 882.75" fill="none" stroke="#000" stroke-width="1.3" stroke-dasharray="5.5 3" stroke-linejoin="round"/>
<path d="M548 588.5 L570 601 L663.75 654.75" fill="none" stroke="#000" stroke-width="1.3" stroke-dasharray="5.5 3" stroke-linejoin="round"/>
<path d="M476 600 L490 606 L555 591 L675 558.5 L687.5 564.75" fill="none" stroke="#000" stroke-width="1.3" stroke-dasharray="5.5 3" stroke-linejoin="round"/>
<path d="M393.75 706 L393.75 741 L380 743.5" fill="none" stroke="#000" stroke-width="1.3" stroke-dasharray="5.5 3" stroke-linejoin="round"/>
<path d="M427.5 698.5 L427.5 731 L462.5 722.25 L462.5 691" fill="none" stroke="#000" stroke-width="1.3" stroke-dasharray="5.5 3" stroke-linejoin="round"/>
<path d="M462.5 722.25 L520 706 L540 691 L520 669.75" fill="none" stroke="#000" stroke-width="1.3" stroke-dasharray="5.5 3" stroke-linejoin="round"/>
<path d="M128.75 954 L145 962.75 L190 950.25 L375 895.25 L380 899 L452.5 939" fill="none" stroke="#000" stroke-width="1.3" stroke-dasharray="5.5 3" stroke-linejoin="round"/>
<path d="M145 962.75 L190 990.25 L217.5 1006.5" fill="none" stroke="#000" stroke-width="1.3" stroke-dasharray="5.5 3" stroke-linejoin="round"/>
<path d="M203.75 974 L222.5 989 L380 942.75 L417.5 931.5 L438.75 944" fill="none" stroke="#000" stroke-width="1.3" stroke-dasharray="5.5 3" stroke-linejoin="round"/>
<path d="M222.5 989 L242.5 1000" fill="none" stroke="#000" stroke-width="1.3" stroke-dasharray="5.5 3" stroke-linejoin="round"/>
<path d="M267.5 976 L287.5 987" fill="none" stroke="#000" stroke-width="1.3" stroke-dasharray="5.5 3" stroke-linejoin="round"/>
<path d="M307.5 964 L327.5 975" fill="none" stroke="#000" stroke-width="1.3" stroke-dasharray="5.5 3" stroke-linejoin="round"/>
<path d="M340 954.5 L360 965.5" fill="none" stroke="#000" stroke-width="1.3" stroke-dasharray="5.5 3" stroke-linejoin="round"/>
<path d="M380 942.75 L400 953.75" fill="none" stroke="#000" stroke-width="1.3" stroke-dasharray="5.5 3" stroke-linejoin="round"/>
<path d="M675 900.25 L705 917.75" fill="none" stroke="#000" stroke-width="1.3" stroke-dasharray="5.5 3" stroke-linejoin="round"/>
<path d="M213.75 1009 L456.25 940.25" fill="none" stroke="#000" stroke-width="1.25" stroke-linejoin="round"/>
<path d="M214 1012 L456.5 943.2" fill="none" stroke="#000" stroke-width="1.25" stroke-linejoin="round"/>
<path d="M214.5 1015 L457 946.5" fill="none" stroke="#000" stroke-width="1.25" stroke-linejoin="round"/>
<path d="M215 1018 L457.3 948.5" fill="none" stroke="#000" stroke-width="1.25" stroke-linejoin="round"/>
<path d="M215 1020.5 L457.5 950.5" fill="none" stroke="#000" stroke-width="1.25" stroke-linejoin="round"/>
<path d="M213.75 1009 L215 1020.5" fill="none" stroke="#000" stroke-width="1.4" stroke-linejoin="round"/>
<path d="M456.25 940.25 L457.5 950.5" fill="none" stroke="#000" stroke-width="1.4" stroke-linejoin="round"/>
<rect x="37.7" y="535.7" width="122.6" height="29.6" fill="#fff" stroke="#2b495b" stroke-width="5.4"/>
<g filter="url(#gs)">
<text transform="translate(134.5 21.35) scale(1 1.21)" font-family='"Liberation Mono", monospace' font-weight="bold" font-size="20" textLength="107" lengthAdjust="spacingAndGlyphs" fill="#000">68101(RH)</text>
<text transform="translate(134.5 41.35) scale(1 1.21)" font-family='"Liberation Mono", monospace' font-weight="bold" font-size="20" textLength="107" lengthAdjust="spacingAndGlyphs" fill="#000">68102(LH)</text>
<text transform="translate(606.5 26.35) scale(1 1.21)" font-family='"Liberation Mono", monospace' font-weight="bold" font-size="20" textLength="119.5" lengthAdjust="spacingAndGlyphs" fill="#000">67663D(RH)</text>
<text transform="translate(606.5 46.35) scale(1 1.21)" font-family='"Liberation Mono", monospace' font-weight="bold" font-size="20" textLength="119.5" lengthAdjust="spacingAndGlyphs" fill="#000">67664C(LH)</text>
<text transform="translate(521.5 76.35) scale(1 1.21)" font-family='"Liberation Mono", monospace' font-weight="bold" font-size="20" textLength="119.5" lengthAdjust="spacingAndGlyphs" fill="#000">68141C(RH)</text>
<text transform="translate(521.5 96.6) scale(1 1.21)" font-family='"Liberation Mono", monospace' font-weight="bold" font-size="20" textLength="119.5" lengthAdjust="spacingAndGlyphs" fill="#000">68151C(LH)</text>
<text transform="translate(532.75 139.35) scale(1 1.21)" font-family='"Liberation Mono", monospace' font-weight="bold" font-size="20" textLength="119.5" lengthAdjust="spacingAndGlyphs" fill="#000">67403F(RH)</text>
<text transform="translate(532.75 159.35) scale(1 1.21)" font-family='"Liberation Mono", monospace' font-weight="bold" font-size="20" textLength="119.5" lengthAdjust="spacingAndGlyphs" fill="#000">67404F(LH)</text>
<text transform="translate(571 213.95) scale(1 1.09)" font-family='"Liberation Mono", monospace' font-weight="bold" font-size="20" textLength="145.15" lengthAdjust="spacingAndGlyphs" fill="#000">90119-06983(2)</text>
<text transform="translate(527.75 253.6) scale(1 1.21)" font-family='"Liberation Mono", monospace' font-weight="bold" font-size="20" textLength="118.75" lengthAdjust="spacingAndGlyphs" fill="#000">75965B(RH)</text>
<text transform="translate(527.75 273.6) scale(1 1.21)" font-family='"Liberation Mono", monospace' font-weight="bold" font-size="20" textLength="118.75" lengthAdjust="spacingAndGlyphs" fill="#000">75966B(LH)</text>
<text transform="translate(306 210.35) scale(1 1.21)" font-family='"Liberation Mono", monospace' font-weight="bold" font-size="20" textLength="117.5" lengthAdjust="spacingAndGlyphs" fill="#000">75985G(RH)</text>
<text transform="translate(306 230.6) scale(1 1.21)" font-family='"Liberation Mono", monospace' font-weight="bold" font-size="20" textLength="117.5" lengthAdjust="spacingAndGlyphs" fill="#000">75986G(LH)</text>
<text transform="translate(9.7 214.9) scale(1 1.09)" font-family='"Liberation Mono", monospace' font-weight="bold" font-size="20" textLength="145.7" lengthAdjust="spacingAndGlyphs" fill="#000">90189-06227(4)</text>
<text transform="translate(99.5 245.6) scale(1 1.21)" font-family='"Liberation Mono", monospace' font-weight="bold" font-size="20" textLength="119.5" lengthAdjust="spacingAndGlyphs" fill="#000">82715F(RH)</text>
<text transform="translate(99.5 264.1) scale(1 1.21)" font-family='"Liberation Mono", monospace' font-weight="bold" font-size="20" textLength="107" lengthAdjust="spacingAndGlyphs" fill="#000">82716(LH)</text>
<text transform="translate(135 304.7) scale(1 1.09)" font-family='"Liberation Mono", monospace' font-weight="bold" font-size="20" textLength="146.15" lengthAdjust="spacingAndGlyphs" fill="#000">90159-60303(4)</text>
<text transform="translate(71.5 392.1) scale(1 1.21)" font-family='"Liberation Mono", monospace' font-weight="bold" font-size="20" textLength="71.7" lengthAdjust="spacingAndGlyphs" fill="#000">87912A</text>
<text transform="translate(366.5 325.2) scale(1 1.09)" font-family='"Liberation Mono", monospace' font-weight="bold" font-size="20" textLength="145.9" lengthAdjust="spacingAndGlyphs" fill="#000">90950-01808(2)</text>
<text transform="translate(644 329.6) scale(1 1.21)" font-family='"Liberation Mono", monospace' font-weight="bold" font-size="20" textLength="59.2" lengthAdjust="spacingAndGlyphs" fill="#000">67715</text>
<text transform="translate(302.75 360.85) scale(1 1.21)" font-family='"Liberation Mono", monospace' font-weight="bold" font-size="20" textLength="119.25" lengthAdjust="spacingAndGlyphs" fill="#000">67837A(RH)</text>
<text transform="translate(302.75 381.1) scale(1 1.21)" font-family='"Liberation Mono", monospace' font-weight="bold" font-size="20" textLength="119.25" lengthAdjust="spacingAndGlyphs" fill="#000">67838A(LH)</text>
<text transform="translate(211 410.1) scale(1 1.21)" font-family='"Liberation Mono", monospace' font-weight="bold" font-size="20" textLength="70.2" lengthAdjust="spacingAndGlyphs" fill="#000">67837K</text>
<text transform="translate(593 378.1) scale(1 1.21)" font-family='"Liberation Mono", monospace' font-weight="bold" font-size="20" textLength="72.7" lengthAdjust="spacingAndGlyphs" fill="#000">67001A</text>
<text transform="translate(53.5 435.2) scale(1 1.09)" font-family='"Liberation Mono", monospace' font-weight="bold" font-size="20" textLength="144.9" lengthAdjust="spacingAndGlyphs" fill="#000">90189-06227(2)</text>
<text transform="translate(115.25 466.45) scale(1 1.09)" font-family='"Liberation Mono", monospace' font-weight="bold" font-size="20" textLength="145.15" lengthAdjust="spacingAndGlyphs" fill="#000">90159-60303(2)</text>
<text transform="translate(603.5 472.95) scale(1 1.09)" font-family='"Liberation Mono", monospace' font-weight="bold" font-size="20" textLength="145.9" lengthAdjust="spacingAndGlyphs" fill="#000">90950-01A05(2)</text>
<text transform="translate(667.75 625.1) scale(1 1.21)" font-family='"Liberation Mono", monospace' font-weight="bold" font-size="20" textLength="70.95" lengthAdjust="spacingAndGlyphs" fill="#000">67001A</text>
<text transform="translate(11 641.2) scale(1 1.09)" font-family='"Liberation Mono", monospace' font-weight="bold" font-size="20" textLength="145.15" lengthAdjust="spacingAndGlyphs" fill="#000">90950-01841(4)</text>
<text transform="translate(4.5 712.2) scale(1 1.09)" font-family='"Liberation Mono", monospace' font-weight="bold" font-size="20" textLength="145.4" lengthAdjust="spacingAndGlyphs" fill="#000">94151-80600(4)</text>
<text transform="translate(184 713.6) scale(1 1.21)" font-family='"Liberation Mono", monospace' font-weight="bold" font-size="20" textLength="107.5" lengthAdjust="spacingAndGlyphs" fill="#000">67111(RH)</text>
<text transform="translate(184 733.6) scale(1 1.21)" font-family='"Liberation Mono", monospace' font-weight="bold" font-size="20" textLength="107.5" lengthAdjust="spacingAndGlyphs" fill="#000">67112(LH)</text>
<text transform="translate(227.75 768.1) scale(1 1.21)" font-family='"Liberation Mono", monospace' font-weight="bold" font-size="20" textLength="107.75" lengthAdjust="spacingAndGlyphs" fill="#000">67001(RH)</text>
<text transform="translate(227.75 788.1) scale(1 1.21)" font-family='"Liberation Mono", monospace' font-weight="bold" font-size="20" textLength="107.75" lengthAdjust="spacingAndGlyphs" fill="#000">67002(LH)</text>
<text transform="translate(78 839.6) scale(1 1.21)" font-family='"Liberation Mono", monospace' font-weight="bold" font-size="20" textLength="120" lengthAdjust="spacingAndGlyphs" fill="#000">68610B(RH)</text>
<text transform="translate(78 858.9) scale(1 1.21)" font-family='"Liberation Mono", monospace' font-weight="bold" font-size="20" textLength="107.5" lengthAdjust="spacingAndGlyphs" fill="#000">68620(LH)</text>
<text transform="translate(191.5 868.7) scale(1 1.09)" font-family='"Liberation Mono", monospace' font-weight="bold" font-size="20" textLength="144.65" lengthAdjust="spacingAndGlyphs" fill="#000">90950-01908(2)</text>
<text transform="translate(44 922.2) scale(1 1.09)" font-family='"Liberation Mono", monospace' font-weight="bold" font-size="20" textLength="144.65" lengthAdjust="spacingAndGlyphs" fill="#000">90109-08295(2)</text>
<text transform="translate(89.5 1022.6) scale(1 1.21)" font-family='"Liberation Mono", monospace' font-weight="bold" font-size="20" textLength="71.7" lengthAdjust="spacingAndGlyphs" fill="#000">67867A</text>
<text transform="translate(169 1043.35) scale(1 1.21)" font-family='"Liberation Mono", monospace' font-weight="bold" font-size="20" textLength="70.95" lengthAdjust="spacingAndGlyphs" fill="#000">67861A</text>
<text transform="translate(169 1076.6) scale(1 1.21)" font-family='"Liberation Mono", monospace' font-weight="bold" font-size="20" textLength="119.5" lengthAdjust="spacingAndGlyphs" fill="#000">67863B(RH)</text>
<text transform="translate(169 1097.1) scale(1 1.21)" font-family='"Liberation Mono", monospace' font-weight="bold" font-size="20" textLength="119.5" lengthAdjust="spacingAndGlyphs" fill="#000">67864B(LH)</text>
<text transform="translate(372 804.1) scale(1 1.21)" font-family='"Liberation Mono", monospace' font-weight="bold" font-size="20" textLength="70.45" lengthAdjust="spacingAndGlyphs" fill="#000">67869E</text>
<text transform="translate(465.25 783.6) scale(1 1.21)" font-family='"Liberation Mono", monospace' font-weight="bold" font-size="20" textLength="119.25" lengthAdjust="spacingAndGlyphs" fill="#000">67867C(RH)</text>
<text transform="translate(465.25 804.1) scale(1 1.21)" font-family='"Liberation Mono", monospace' font-weight="bold" font-size="20" textLength="119.25" lengthAdjust="spacingAndGlyphs" fill="#000">67868C(LH)</text>
<text transform="translate(555 757.85) scale(1 1.21)" font-family='"Liberation Mono", monospace' font-weight="bold" font-size="20" textLength="71.7" lengthAdjust="spacingAndGlyphs" fill="#000">67869E</text>
<text transform="translate(599.5 727.85) scale(1 1.21)" font-family='"Liberation Mono", monospace' font-weight="bold" font-size="20" textLength="72.95" lengthAdjust="spacingAndGlyphs" fill="#000">67869B</text>
<text transform="translate(634 783.1) scale(1 1.21)" font-family='"Liberation Mono", monospace' font-weight="bold" font-size="20" textLength="119" lengthAdjust="spacingAndGlyphs" fill="#000">67867C(RH)</text>
<text transform="translate(634 802.85) scale(1 1.21)" font-family='"Liberation Mono", monospace' font-weight="bold" font-size="20" textLength="119" lengthAdjust="spacingAndGlyphs" fill="#000">67868C(LH)</text>
<text transform="translate(507.75 839.1) scale(1 1.21)" font-family='"Liberation Mono", monospace' font-weight="bold" font-size="20" textLength="107.75" lengthAdjust="spacingAndGlyphs" fill="#000">67861(RH)</text>
<text transform="translate(507.75 858.35) scale(1 1.21)" font-family='"Liberation Mono", monospace' font-weight="bold" font-size="20" textLength="107.75" lengthAdjust="spacingAndGlyphs" fill="#000">67862(LH)</text>
<text transform="translate(642.75 839.1) scale(1 1.21)" font-family='"Liberation Mono", monospace' font-weight="bold" font-size="20" textLength="107.75" lengthAdjust="spacingAndGlyphs" fill="#000">67923(RH)</text>
<text transform="translate(642.75 859.1) scale(1 1.21)" font-family='"Liberation Mono", monospace' font-weight="bold" font-size="20" textLength="107.75" lengthAdjust="spacingAndGlyphs" fill="#000">67924(LH)</text>
<text transform="translate(534 932.95) scale(1 1.09)" font-family='"Liberation Mono", monospace' font-weight="bold" font-size="20" textLength="144.65" lengthAdjust="spacingAndGlyphs" fill="#000">91631-60622(4)</text>
<text transform="translate(487.75 1002.1) scale(1 1.21)" font-family='"Liberation Mono", monospace' font-weight="bold" font-size="20" textLength="108.25" lengthAdjust="spacingAndGlyphs" fill="#000">67831(RH)</text>
<text transform="translate(487.75 1021.1) scale(1 1.21)" font-family='"Liberation Mono", monospace' font-weight="bold" font-size="20" textLength="108.25" lengthAdjust="spacingAndGlyphs" fill="#000">67832(LH)</text>
<text transform="translate(499 885.5) scale(1 1)" font-family='"Liberation Mono", monospace' font-weight="bold" font-size="20" textLength="83.2" lengthAdjust="spacingAndGlyphs" fill="#000">REFER TO</text>
<text transform="translate(499 904.3) scale(1 1)" font-family='"Liberation Mono", monospace' font-weight="bold" font-size="20" textLength="92.2" lengthAdjust="spacingAndGlyphs" fill="#000">FIG 57-01</text>
<g><clipPath id="c1"><rect x="0" y="500" width="300" height="33.5"/></clipPath><g clip-path="url(#c1)">
<text transform="translate(47.75 538) scale(1 1.21)" font-family='"Liberation Mono", monospace' font-weight="bold" font-size="20" textLength="106.75" lengthAdjust="spacingAndGlyphs" fill="#000">87963(RH)</text>
</g></g>
<text transform="translate(47.75 558.3) scale(1 1.21)" font-family='"Liberation Mono", monospace' font-weight="bold" font-size="20" textLength="106.75" lengthAdjust="spacingAndGlyphs" fill="#000">87964(LH)</text>
<text transform="translate(10.3 198.1) scale(1.12 1)" font-family='"Liberation Sans", "Noto Sans CJK JP", sans-serif' font-size="14" fill="#000">※</text>
<text transform="translate(26.62 196.8) scale(0.8 1)" font-family='"Liberation Sans", sans-serif' font-size="13.02" fill="#000">1</text>
<text transform="translate(73.8 244.6) scale(1.12 1)" font-family='"Liberation Sans", "Noto Sans CJK JP", sans-serif' font-size="14" fill="#000">※</text>
<text transform="translate(90.12 243.3) scale(0.8 1)" font-family='"Liberation Sans", sans-serif' font-size="13.02" fill="#000">1</text>
<text transform="translate(73.8 263.6) scale(1.12 1)" font-family='"Liberation Sans", "Noto Sans CJK JP", sans-serif' font-size="14" fill="#000">※</text>
<text transform="translate(90.12 262.3) scale(0.8 1)" font-family='"Liberation Sans", sans-serif' font-size="13.02" fill="#000">1</text>
<text transform="translate(136.3 290.6) scale(1.12 1)" font-family='"Liberation Sans", "Noto Sans CJK JP", sans-serif' font-size="14" fill="#000">※</text>
<text transform="translate(152.62 289.3) scale(0.8 1)" font-family='"Liberation Sans", sans-serif' font-size="13.02" fill="#000">1</text>
<text transform="translate(185.3 410.1) scale(1.12 1)" font-family='"Liberation Sans", "Noto Sans CJK JP", sans-serif' font-size="14" fill="#000">※</text>
<text transform="translate(201.62 408.8) scale(0.8 1)" font-family='"Liberation Sans", sans-serif' font-size="13.02" fill="#000">2</text>
<text transform="translate(619.3 329.6) scale(1.12 1)" font-family='"Liberation Sans", "Noto Sans CJK JP", sans-serif' font-size="14" fill="#000">※</text>
<text transform="translate(635.62 328.3) scale(0.8 1)" font-family='"Liberation Sans", sans-serif' font-size="13.02" fill="#000">3</text>
<text x="608.5" y="393.6" font-family='"Liberation Sans", sans-serif' font-weight="normal" font-size="13.6" fill="#000" textLength="42" lengthAdjust="spacingAndGlyphs">(NO.2)</text>
<text x="682.5" y="640.4" font-family='"Liberation Sans", sans-serif' font-weight="normal" font-size="13.6" fill="#000" textLength="41" lengthAdjust="spacingAndGlyphs">(NO.1)</text>
<text transform="translate(356.3 1060.6) scale(1.12 1)" font-family='"Liberation Sans", "Noto Sans CJK JP", sans-serif' font-size="14.5" fill="#000">※</text>
<text transform="translate(372.7 1059) scale(0.85 1)" font-family='"Liberation Sans", sans-serif' font-size="14.6" fill="#000">1</text>
<text transform="translate(356.3 1077.1) scale(1.12 1)" font-family='"Liberation Sans", "Noto Sans CJK JP", sans-serif' font-size="14.5" fill="#000">※</text>
<text transform="translate(372.7 1075.5) scale(0.85 1)" font-family='"Liberation Sans", sans-serif' font-size="14.6" fill="#000">2</text>
<text transform="translate(356.3 1094.1) scale(1.12 1)" font-family='"Liberation Sans", "Noto Sans CJK JP", sans-serif' font-size="14.5" fill="#000">※</text>
<text transform="translate(372.7 1092.5) scale(0.85 1)" font-family='"Liberation Sans", sans-serif' font-size="14.6" fill="#000">3</text>
<text x="384.5" y="1059" font-family='"Liberation Sans", sans-serif' font-weight="normal" font-size="14.7" fill="#000" textLength="162.5" lengthAdjust="spacingAndGlyphs">W/O(MEMORY MIRROR)</text>
<text x="386" y="1075.5" font-family='"Liberation Sans", sans-serif' font-weight="normal" font-size="14.7" fill="#000" textLength="81" lengthAdjust="spacingAndGlyphs">(1411-      )</text>
<text x="386" y="1092.5" font-family='"Liberation Sans", sans-serif' font-weight="normal" font-size="14.7" fill="#000" textLength="81" lengthAdjust="spacingAndGlyphs">(1504-      )</text>
<text x="697.5" y="1100.3" font-family='"Liberation Sans", sans-serif' font-weight="normal" font-size="13.5" fill="#000" textLength="59" lengthAdjust="spacingAndGlyphs">676678J</text>
</g>
</svg>
</body></html>
